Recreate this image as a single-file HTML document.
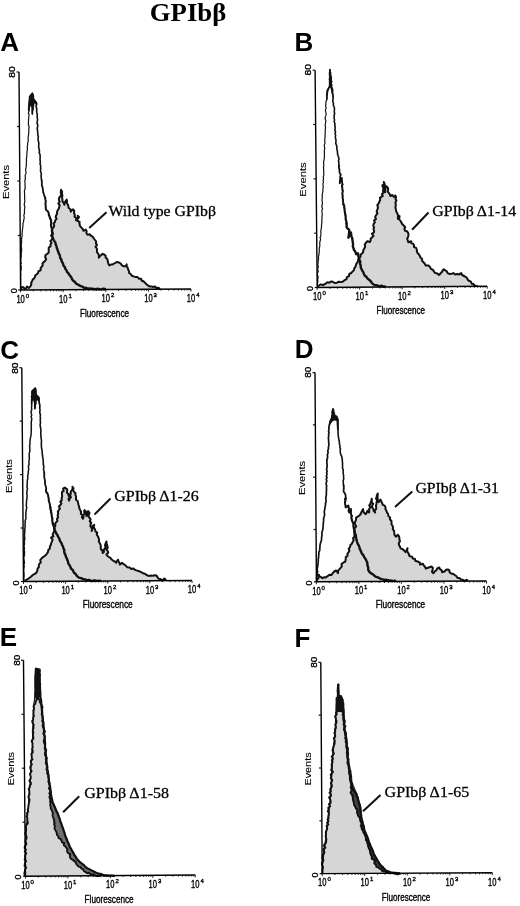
<!DOCTYPE html>
<html><head><meta charset="utf-8"><style>
html,body{margin:0;padding:0;background:#fff;width:520px;height:906px;overflow:hidden;}
svg{display:block;filter:blur(0.3px);}
</style></head><body>
<svg width="520" height="906" viewBox="0 0 520 906">
<rect width="520" height="906" fill="#fff"/>
<text x="149.8" y="20.8" font-family="&quot;Liberation Serif&quot;, serif" font-size="26" font-weight="bold" fill="#000" textLength="76.5" lengthAdjust="spacingAndGlyphs">GPIb&#946;</text>
<g><text x="0.2" y="51" font-family="&quot;Liberation Sans&quot;, sans-serif" font-size="26" font-weight="bold" fill="#000">A</text><polygon points="21,290 21,289.5 21.2,287.6 23,287 25,289 26.3,288 27,286.5 29,288 30.6,286 31.3,284.5 31.2,282.6 32.1,281.2 32.7,279.6 34,278.4 34.9,277 35.4,275.3 36.8,274.2 38,273 38.5,271.2 40.6,270.4 40.6,268.3 41.6,266.8 42.7,265.4 42.4,263.4 43.8,262.1 45.2,260.8 46.1,259.2 45.2,257 45.4,255.3 47,254 48.6,252.8 48.7,251.1 48.7,249.3 48.8,247.5 50.5,246.4 50.5,244.6 51.5,242.9 50.4,240.9 52.2,239.3 52.5,237.5 51,235.5 52.9,233.9 52.3,232 52.2,230.2 52.4,228.5 53.7,227.1 54.2,225.4 53.6,223.5 54.9,222.1 55.2,220.4 56.6,219 55.7,216.9 56.2,215.3 57.1,213.8 57,211.9 57.7,210.3 58.7,208.8 59.2,207.1 59.7,205.4 58.3,203.5 59.7,201.9 58.9,200.1 59,198.3 59.9,196.7 61.4,195.1 60.8,193.3 60.8,191.5 61,189.8 62.1,191.6 61.9,193.5 62.4,195.3 62.1,197.3 62.4,199.3 62.5,201.3 63.7,203 64.4,204.8 64.8,202.9 65.5,201.1 66.7,199.6 67,201.2 66.9,203 67.7,204.5 68.4,206 68.5,207.7 70.4,209.3 70.8,211.7 71.7,210.3 73.1,209.4 74.3,210.9 74,212.9 74.8,214.6 74.6,216.7 76.5,218.3 76,220.4 77.5,219.2 78.1,217.7 77.7,215.8 79.1,217.2 77.3,219.2 77.7,220.8 79.7,222.1 79.4,223.8 80.1,226.1 81.7,227.9 82.8,229.2 83.5,230.8 85.8,229.6 86.6,231.3 86.4,233.2 87.5,234.8 89.8,234.2 90.7,235.6 92.3,236.4 93.3,237.7 95,240 96.2,241.5 95.9,243.3 97,244.8 95.5,246.8 96.8,248.3 97,250 96.9,252 98.3,253.8 99,255.6 98.8,257.7 99.8,256.1 101.3,255 102.7,253.8 104.3,254.6 105.6,255.8 105.7,257.6 107.2,258.9 107.7,260.5 108,262.3 108.5,263.9 109.4,265.4 110.9,264.5 112.7,264.4 114.2,263.5 115.7,262.6 117.2,262 119,262.5 120.7,263.6 122,265.3 123.8,266.3 125.8,266.1 126.7,264.4 126.6,266.3 127.7,267.7 128.1,269.4 129,270.9 128.9,272.8 130.6,274 131.8,275.7 133.6,276.4 135.4,277 137.5,277.1 139.1,278.8 141.2,278.8 141.7,280.7 143.5,281.3 144.7,282.6 146,283.7 147.7,285.4 149.8,286.5 151.6,286.4 153.2,287 155,286.6 156.5,288 158.5,287.7 160,289 160,289" fill="#d6d6d6" stroke="none"/><polyline points="21,289.5 21.2,287.6 23,287 25,289 26.3,288 27,286.5 29,288 30.6,286 31.3,284.5 31.2,282.6 32.1,281.2 32.7,279.6 34,278.4 34.9,277 35.4,275.3 36.8,274.2 38,273 38.5,271.2 40.6,270.4 40.6,268.3 41.6,266.8 42.7,265.4 42.4,263.4 43.8,262.1 45.2,260.8 46.1,259.2 45.2,257 45.4,255.3 47,254 48.6,252.8 48.7,251.1 48.7,249.3 48.8,247.5 50.5,246.4 50.5,244.6 51.5,242.9 50.4,240.9 52.2,239.3 52.5,237.5 51,235.5 52.9,233.9 52.3,232 52.2,230.2 52.4,228.5 53.7,227.1 54.2,225.4 53.6,223.5 54.9,222.1 55.2,220.4 56.6,219 55.7,216.9 56.2,215.3 57.1,213.8 57,211.9 57.7,210.3 58.7,208.8 59.2,207.1 59.7,205.4 58.3,203.5 59.7,201.9 58.9,200.1 59,198.3 59.9,196.7 61.4,195.1 60.8,193.3 60.8,191.5 61,189.8 62.1,191.6 61.9,193.5 62.4,195.3 62.1,197.3 62.4,199.3 62.5,201.3 63.7,203 64.4,204.8 64.8,202.9 65.5,201.1 66.7,199.6 67,201.2 66.9,203 67.7,204.5 68.4,206 68.5,207.7 70.4,209.3 70.8,211.7 71.7,210.3 73.1,209.4 74.3,210.9 74,212.9 74.8,214.6 74.6,216.7 76.5,218.3 76,220.4 77.5,219.2 78.1,217.7 77.7,215.8 79.1,217.2 77.3,219.2 77.7,220.8 79.7,222.1 79.4,223.8 80.1,226.1 81.7,227.9 82.8,229.2 83.5,230.8 85.8,229.6 86.6,231.3 86.4,233.2 87.5,234.8 89.8,234.2 90.7,235.6 92.3,236.4 93.3,237.7 95,240 96.2,241.5 95.9,243.3 97,244.8 95.5,246.8 96.8,248.3 97,250 96.9,252 98.3,253.8 99,255.6 98.8,257.7 99.8,256.1 101.3,255 102.7,253.8 104.3,254.6 105.6,255.8 105.7,257.6 107.2,258.9 107.7,260.5 108,262.3 108.5,263.9 109.4,265.4 110.9,264.5 112.7,264.4 114.2,263.5 115.7,262.6 117.2,262 119,262.5 120.7,263.6 122,265.3 123.8,266.3 125.8,266.1 126.7,264.4 126.6,266.3 127.7,267.7 128.1,269.4 129,270.9 128.9,272.8 130.6,274 131.8,275.7 133.6,276.4 135.4,277 137.5,277.1 139.1,278.8 141.2,278.8 141.7,280.7 143.5,281.3 144.7,282.6 146,283.7 147.7,285.4 149.8,286.5 151.6,286.4 153.2,287 155,286.6 156.5,288 158.5,287.7 160,289" fill="none" stroke="#111" stroke-width="2.0" stroke-linejoin="round"/><polyline points="20.6,289 20.9,287.4 20.7,285.8 20.6,284.2 20.7,282.6 20.6,280.9 20.8,279.3 20.5,277.7 20.6,276.1 20.8,274.5 20.7,272.9 20.6,271.3 21.2,269.7 21.1,268.1 21.3,266.4 20.6,264.8 21.4,263.2 20.6,261.6 21,260 20.9,258.3 21.3,256.6 21.3,254.8 21.2,253.1 21.6,251.4 21.7,249.6 21.5,247.9 21.3,246.2 21.3,244.4 21.7,242.7 21.6,241 21.6,239.3 21.7,237.6 22.2,235.9 22,234.1 22.2,232.4 22.4,230.7 22.5,229 22.8,227.3 23,225.5 22.9,223.6 23.6,221.8 23.7,220 24.2,218.4 24.1,216.7 23.8,215 24.5,213.4 24.4,211.7 24.5,210 24.6,208.4 24.9,206.7 24.2,205.1 24.4,203.4 24.8,201.8 24.8,200.1 24.6,198.5 24.6,196.8 24.6,195.2 24.6,193.5 24.4,191.9 24.5,190.2 25.2,188.6 25.1,186.9 25,185.3 25,183.6 25,182 24.8,180.4 25.4,178.8 25.3,177.1 25.1,175.5 25.8,173.9 26.1,172.3 25.6,170.6 25.7,169 26.1,167.4 26.2,165.8 26.5,164.1 26.2,162.5 26.6,160.9 26.3,159.2 26.6,157.6 26.8,156 26.8,154.4 27,152.7 27,151.1 27.4,149.5 27.4,147.9 27.3,146.2 27.7,144.6 27.6,143 28.1,141.4 28.3,139.8 28,138.1 28.3,136.5 28.5,134.9 28.7,133.3 28.8,131.6 28.8,130 28.9,128.3 29.1,126.6 28.4,124.9 28.4,123.1 28.5,121.4 28.6,119.7 28.7,118 28.8,116.4 29.1,114.8 28.3,113.1 28.9,111.5 28.4,109.9 28.5,108.2 28.6,106.6 28.7,105 28.8,103.3 29,101.6 29.4,99.9 29.3,98.1 29.5,96.4 30.9,94.7 32.4,93.2" fill="none" stroke="#111" stroke-width="1.2" stroke-linejoin="round"/><polyline points="32.4,93.2 33.2,95 33.4,97 33.4,98.7 32.9,100.4 33.1,102.1 32.7,103.8 33.1,105.5 32.5,107.2 32.8,108.9 32.3,110.6 32.4,112.3 32.3,114 32.4,112.4 32.4,110.7 33.2,109.2 32.9,107.5 33.4,106 33.5,104.3 33.8,102.7 33.7,101.1 34.1,99.5 35.2,101 36.4,102.4 36.8,104.1 36.2,105.8 36.3,107.6 36.8,109.3 36.6,111 36.9,112.7 37.3,114.5 37.1,116.3 37.3,118 37.6,119.7 37.3,121.4 37,123.1 37.7,124.9 37.7,126.6 37.2,128.3 37.5,130 37.6,131.6 37.8,133.2 37.7,134.8 38.3,136.4 38.2,138 38,139.6 38.4,141.2 38.8,142.7 38.8,144.3 38.6,146 38.8,147.6 39.1,149.1 39.5,150.7 39.1,152.4 39.8,153.9 40.1,155.5 40.2,157.1 40,158.7 40.1,160.3 40.4,162 40,163.7 40.6,165.3 40.6,167 40.7,168.7 40.5,170.4 40.7,172 41.4,173.7 41.1,175.4 41.2,177 41.3,178.7 41.7,180.4" fill="none" stroke="#111" stroke-width="1.6" stroke-linejoin="round" stroke-linecap="round"/><polyline points="41.7,180.4 41.8,182 41.9,183.7 41.8,185.4 42.5,187.1 42.8,188.8 43,190.6 43.2,192.4 43.9,194 44.3,195.8 45.1,197.4" fill="none" stroke="#111" stroke-width="1.8" stroke-linejoin="round" stroke-linecap="round"/><polyline points="45.1,197.4 45.3,199.2 45.8,201 45.5,202.8 45.5,204.6 45.8,206.4 45.7,208.2 46.2,210 47.8,211.2 48.7,213 48.9,214.9" fill="none" stroke="#111" stroke-width="2.0" stroke-linejoin="round" stroke-linecap="round"/><polyline points="48.9,214.9 49.6,216.6 50.1,218.4 51,220 51.1,221.6 51.2,223.2 51,224.8 51.1,226.4 51.8,228 52,229.6 51.9,231.2 52.2,232.8" fill="none" stroke="#111" stroke-width="2.2" stroke-linejoin="round" stroke-linecap="round"/><polyline points="52.2,232.8 52.2,234.4 52.2,236 52.7,237.8 53.5,239.5 54.4,241.1 55.4,242.7 55.7,244.6 56.5,246 56.7,247.7 57.4,249.1 57.7,250.7 58.5,252.1 58.8,253.7 59.8,255.1 60,256.7 60.4,258.3 61.5,259.7 61.6,261.4 62.6,262.8 63.2,264.3 63.6,265.9 64.9,267.1 65.2,268.8 66.4,270.1 67,271.9 68.3,273.2 69.2,274.7 70.3,276.1 71.4,277.5 72.1,279.2 73.2,280.7 74.7,281.8 75.8,283.3 77.3,284.4 79.1,285.2 80.8,286.1 82.6,286.7 84.2,287.9 86,287.8 87.8,288.6 89.6,288.4 91.4,288.7 93.2,288.8 95,289.2 96.7,289 98.3,288.8 100,289.4 101.7,289.1 103.3,288.7 105,289" fill="none" stroke="#111" stroke-width="2.4" stroke-linejoin="round" stroke-linecap="round"/><polygon points="29.3,96.5 31.5,93.5 33,93 34,99 36.4,101.8 37.2,108 36.6,111 35.5,104 33.5,103 33,114.5 31.8,114.5 31.3,107 30.2,106 29.6,112 28.9,110 28.8,100" fill="#111" stroke="none"/><polyline points="19,72 20.6,290 191,289" fill="none" stroke="#000" stroke-width="1.4"/><line x1="18.1" y1="290" x2="20.6" y2="290" stroke="#111" stroke-width="1.2"/><line x1="17.7" y1="235.5" x2="20.2" y2="235.5" stroke="#111" stroke-width="1.2"/><line x1="17.3" y1="181" x2="19.8" y2="181" stroke="#111" stroke-width="1.2"/><line x1="16.9" y1="126.5" x2="19.4" y2="126.5" stroke="#111" stroke-width="1.2"/><line x1="16.5" y1="72" x2="19" y2="72" stroke="#111" stroke-width="1.2"/><line x1="20.6" y1="290" x2="20.6" y2="292.5" stroke="#111" stroke-width="0.9"/><line x1="33.4" y1="289.9" x2="33.4" y2="291.4" stroke="#111" stroke-width="0.9"/><line x1="40.9" y1="289.9" x2="40.9" y2="291.4" stroke="#111" stroke-width="0.9"/><line x1="46.2" y1="289.8" x2="46.2" y2="291.3" stroke="#111" stroke-width="0.9"/><line x1="50.4" y1="289.8" x2="50.4" y2="291.3" stroke="#111" stroke-width="0.9"/><line x1="53.7" y1="289.8" x2="53.7" y2="291.3" stroke="#111" stroke-width="0.9"/><line x1="56.6" y1="289.8" x2="56.6" y2="291.3" stroke="#111" stroke-width="0.9"/><line x1="59.1" y1="289.8" x2="59.1" y2="291.3" stroke="#111" stroke-width="0.9"/><line x1="61.3" y1="289.8" x2="61.3" y2="291.3" stroke="#111" stroke-width="0.9"/><line x1="63.2" y1="289.8" x2="63.2" y2="292.2" stroke="#111" stroke-width="0.9"/><line x1="76" y1="289.7" x2="76" y2="291.2" stroke="#111" stroke-width="0.9"/><line x1="83.5" y1="289.6" x2="83.5" y2="291.1" stroke="#111" stroke-width="0.9"/><line x1="88.8" y1="289.6" x2="88.8" y2="291.1" stroke="#111" stroke-width="0.9"/><line x1="93" y1="289.6" x2="93" y2="291.1" stroke="#111" stroke-width="0.9"/><line x1="96.3" y1="289.6" x2="96.3" y2="291.1" stroke="#111" stroke-width="0.9"/><line x1="99.2" y1="289.5" x2="99.2" y2="291" stroke="#111" stroke-width="0.9"/><line x1="101.7" y1="289.5" x2="101.7" y2="291" stroke="#111" stroke-width="0.9"/><line x1="103.9" y1="289.5" x2="103.9" y2="291" stroke="#111" stroke-width="0.9"/><line x1="105.8" y1="289.5" x2="105.8" y2="292" stroke="#111" stroke-width="0.9"/><line x1="118.6" y1="289.4" x2="118.6" y2="290.9" stroke="#111" stroke-width="0.9"/><line x1="126.1" y1="289.4" x2="126.1" y2="290.9" stroke="#111" stroke-width="0.9"/><line x1="131.4" y1="289.3" x2="131.4" y2="290.8" stroke="#111" stroke-width="0.9"/><line x1="135.6" y1="289.3" x2="135.6" y2="290.8" stroke="#111" stroke-width="0.9"/><line x1="138.9" y1="289.3" x2="138.9" y2="290.8" stroke="#111" stroke-width="0.9"/><line x1="141.8" y1="289.3" x2="141.8" y2="290.8" stroke="#111" stroke-width="0.9"/><line x1="144.3" y1="289.3" x2="144.3" y2="290.8" stroke="#111" stroke-width="0.9"/><line x1="146.5" y1="289.3" x2="146.5" y2="290.8" stroke="#111" stroke-width="0.9"/><line x1="148.4" y1="289.2" x2="148.4" y2="291.8" stroke="#111" stroke-width="0.9"/><line x1="161.2" y1="289.2" x2="161.2" y2="290.7" stroke="#111" stroke-width="0.9"/><line x1="168.7" y1="289.1" x2="168.7" y2="290.6" stroke="#111" stroke-width="0.9"/><line x1="174" y1="289.1" x2="174" y2="290.6" stroke="#111" stroke-width="0.9"/><line x1="178.2" y1="289.1" x2="178.2" y2="290.6" stroke="#111" stroke-width="0.9"/><line x1="181.5" y1="289.1" x2="181.5" y2="290.6" stroke="#111" stroke-width="0.9"/><line x1="184.4" y1="289" x2="184.4" y2="290.5" stroke="#111" stroke-width="0.9"/><line x1="186.9" y1="289" x2="186.9" y2="290.5" stroke="#111" stroke-width="0.9"/><line x1="189.1" y1="289" x2="189.1" y2="290.5" stroke="#111" stroke-width="0.9"/><line x1="191" y1="289" x2="191" y2="291.5" stroke="#111" stroke-width="0.9"/><text transform="translate(15.2,77.8) rotate(-90)" font-family="&quot;Liberation Sans&quot;, sans-serif" font-size="9.3" font-weight="normal" fill="#000" textLength="11.4" lengthAdjust="spacingAndGlyphs" stroke="#000" stroke-width="0.35">80</text><text transform="translate(17.2,293.2) rotate(-90)" font-family="&quot;Liberation Sans&quot;, sans-serif" font-size="9" font-weight="normal" fill="#000" stroke="#000" stroke-width="0.35">0</text><text transform="translate(8.9,199) rotate(-90)" font-family="&quot;Liberation Sans&quot;, sans-serif" font-size="8.8" font-weight="normal" fill="#000" textLength="34" lengthAdjust="spacingAndGlyphs" stroke="#000" stroke-width="0.1">Events</text><text x="16.4" y="302.8" font-family="&quot;Liberation Sans&quot;, sans-serif" font-size="10" font-weight="normal" fill="#000" textLength="8.4" lengthAdjust="spacingAndGlyphs" stroke="#000" stroke-width="0.35">10</text><text x="25.8" y="297.8" font-family="&quot;Liberation Sans&quot;, sans-serif" font-size="6" font-weight="normal" fill="#000" stroke="#000" stroke-width="0.35">0</text><text x="59" y="302.6" font-family="&quot;Liberation Sans&quot;, sans-serif" font-size="10" font-weight="normal" fill="#000" textLength="8.4" lengthAdjust="spacingAndGlyphs" stroke="#000" stroke-width="0.35">10</text><text x="68.4" y="297.6" font-family="&quot;Liberation Sans&quot;, sans-serif" font-size="6" font-weight="normal" fill="#000" stroke="#000" stroke-width="0.35">1</text><text x="101.6" y="302.3" font-family="&quot;Liberation Sans&quot;, sans-serif" font-size="10" font-weight="normal" fill="#000" textLength="8.4" lengthAdjust="spacingAndGlyphs" stroke="#000" stroke-width="0.35">10</text><text x="111" y="297.3" font-family="&quot;Liberation Sans&quot;, sans-serif" font-size="6" font-weight="normal" fill="#000" stroke="#000" stroke-width="0.35">2</text><text x="144.2" y="302.1" font-family="&quot;Liberation Sans&quot;, sans-serif" font-size="10" font-weight="normal" fill="#000" textLength="8.4" lengthAdjust="spacingAndGlyphs" stroke="#000" stroke-width="0.35">10</text><text x="153.6" y="297.1" font-family="&quot;Liberation Sans&quot;, sans-serif" font-size="6" font-weight="normal" fill="#000" stroke="#000" stroke-width="0.35">3</text><text x="186.8" y="301.8" font-family="&quot;Liberation Sans&quot;, sans-serif" font-size="10" font-weight="normal" fill="#000" textLength="8.4" lengthAdjust="spacingAndGlyphs" stroke="#000" stroke-width="0.35">10</text><text x="196.2" y="296.8" font-family="&quot;Liberation Sans&quot;, sans-serif" font-size="6" font-weight="normal" fill="#000" stroke="#000" stroke-width="0.35">4</text><text x="80" y="316.6" font-family="&quot;Liberation Sans&quot;, sans-serif" font-size="10" font-weight="normal" fill="#000" textLength="49" lengthAdjust="spacingAndGlyphs" stroke="#000" stroke-width="0.35">Fluorescence</text><text x="108.5" y="215.5" font-family="&quot;Liberation Serif&quot;, serif" font-size="15" font-weight="normal" fill="#000" textLength="107.5" lengthAdjust="spacingAndGlyphs" stroke="#000" stroke-width="0.3">Wild type GPIb&#946;</text><line x1="89.2" y1="228" x2="106.5" y2="212.3" stroke="#111" stroke-width="2"/></g>
<g><text x="294.6" y="50.6" font-family="&quot;Liberation Sans&quot;, sans-serif" font-size="26" font-weight="bold" fill="#000">B</text><polygon points="317.5,287.5 317.5,286.5 319.1,285.5 320.7,284.4 323,285 325.8,283.6 327.3,282.3 329.3,282.7 330.9,281.5 332.8,281.8 334.8,283 337.1,282.7 338.7,281.7 340.6,282.1 342.3,281.8 343.7,280.9 345.1,279.9 346.6,279.2 346.8,277.1 349,276.1 349.2,274 351.2,273 352.7,271.4 353.9,270.2 354.2,268.4 355.3,267.1 355.9,265.2 356.5,263.4 357.9,261.9 358.1,259.8 358.8,258 360.5,256.7 360.5,254.8 361.9,253.6 363.1,252.4 363.2,250.4 364.3,248.6 365.1,246.7 364.8,244.6 365.9,242.8 367.4,241.2 370,242 370.6,240.4 370.8,238.5 372.2,237.3 373.5,235.9 371.9,233.9 373.8,232.6 374.2,231.1 373.5,229.2 374.1,227.7 373.3,225.8 373.5,224.1 374.9,222.4 374,220.6 376,219 375.1,217.1 376.1,215.1 377.5,213.3 376.6,211.6 377.2,210 377.8,208.5 377.9,206.9 377.3,205.2 378.5,203.7 379.3,201.8 380.2,200 379.9,197.9 381.3,196.9 382.8,196 381.9,194.2 383.5,192.5 382.9,190.7 383.6,189 382.9,187.2 382.4,185.4 384.4,183.8 383.8,182 384.5,183.6 384.9,185.3 384.4,187.1 384.3,188.8 384.2,190.5 385.2,192.1 385.3,190.1 385.2,188 386.6,186.3 388.1,188.3 388.1,190 387.8,191.7 389,193.1 389.8,194.5 390.5,196 392.4,195 393.8,196.9 395.3,195.5 396.1,197.1 395.5,198.9 396.4,200.5 395.5,202.2 395.7,203.9 395.8,205.6 395.4,207.3 395.7,208.8 396,210.4 396.5,212 397.4,213.6 398,215.3 397.9,217.2 398,219 399.4,217.8 399.5,216 399.1,217.8 399.4,219.5 400.6,221 402,223.8 403.9,225.8 405.2,227.2 404.4,229 404.9,230.6 407.3,231.5 408.3,233.2 408.5,235 408.1,236.9 407.2,238.8 407.8,240.5 408.3,242.3 411.2,241.3 411.2,243.1 413.3,243.9 414,245.3 414,247.1 416.1,247.9 416.9,250 416.9,251.8 417.7,253.2 418.9,254.4 419.8,255.8 420.5,257.6 422.1,259 422.2,261.1 423.7,262.5 424.9,263.8 425.6,265.4 428.5,265.4 430,267.2 431.3,269.2 433.1,270 434,271.7 435.2,273.1 437.4,273.5 439,275 440.4,273.5 441.9,272.1 442.7,270.5 443.8,269.2 445.1,270.4 446.7,271.2 447.6,273.1 449.6,274 451.6,273.8 453.5,273.1 455.2,274.5 457.3,274 459.4,274.4 461.2,273.1 462.1,275 464,276 465.6,276.8 466.9,277.9 467.7,279.5 468.8,280.8 470.9,281.6 471.7,283.7 473.5,284.1 474.6,285.6 477.5,286.2 477.5,286.2" fill="#d6d6d6" stroke="none"/><polyline points="317.5,286.5 319.1,285.5 320.7,284.4 323,285 325.8,283.6 327.3,282.3 329.3,282.7 330.9,281.5 332.8,281.8 334.8,283 337.1,282.7 338.7,281.7 340.6,282.1 342.3,281.8 343.7,280.9 345.1,279.9 346.6,279.2 346.8,277.1 349,276.1 349.2,274 351.2,273 352.7,271.4 353.9,270.2 354.2,268.4 355.3,267.1 355.9,265.2 356.5,263.4 357.9,261.9 358.1,259.8 358.8,258 360.5,256.7 360.5,254.8 361.9,253.6 363.1,252.4 363.2,250.4 364.3,248.6 365.1,246.7 364.8,244.6 365.9,242.8 367.4,241.2 370,242 370.6,240.4 370.8,238.5 372.2,237.3 373.5,235.9 371.9,233.9 373.8,232.6 374.2,231.1 373.5,229.2 374.1,227.7 373.3,225.8 373.5,224.1 374.9,222.4 374,220.6 376,219 375.1,217.1 376.1,215.1 377.5,213.3 376.6,211.6 377.2,210 377.8,208.5 377.9,206.9 377.3,205.2 378.5,203.7 379.3,201.8 380.2,200 379.9,197.9 381.3,196.9 382.8,196 381.9,194.2 383.5,192.5 382.9,190.7 383.6,189 382.9,187.2 382.4,185.4 384.4,183.8 383.8,182 384.5,183.6 384.9,185.3 384.4,187.1 384.3,188.8 384.2,190.5 385.2,192.1 385.3,190.1 385.2,188 386.6,186.3 388.1,188.3 388.1,190 387.8,191.7 389,193.1 389.8,194.5 390.5,196 392.4,195 393.8,196.9 395.3,195.5 396.1,197.1 395.5,198.9 396.4,200.5 395.5,202.2 395.7,203.9 395.8,205.6 395.4,207.3 395.7,208.8 396,210.4 396.5,212 397.4,213.6 398,215.3 397.9,217.2 398,219 399.4,217.8 399.5,216 399.1,217.8 399.4,219.5 400.6,221 402,223.8 403.9,225.8 405.2,227.2 404.4,229 404.9,230.6 407.3,231.5 408.3,233.2 408.5,235 408.1,236.9 407.2,238.8 407.8,240.5 408.3,242.3 411.2,241.3 411.2,243.1 413.3,243.9 414,245.3 414,247.1 416.1,247.9 416.9,250 416.9,251.8 417.7,253.2 418.9,254.4 419.8,255.8 420.5,257.6 422.1,259 422.2,261.1 423.7,262.5 424.9,263.8 425.6,265.4 428.5,265.4 430,267.2 431.3,269.2 433.1,270 434,271.7 435.2,273.1 437.4,273.5 439,275 440.4,273.5 441.9,272.1 442.7,270.5 443.8,269.2 445.1,270.4 446.7,271.2 447.6,273.1 449.6,274 451.6,273.8 453.5,273.1 455.2,274.5 457.3,274 459.4,274.4 461.2,273.1 462.1,275 464,276 465.6,276.8 466.9,277.9 467.7,279.5 468.8,280.8 470.9,281.6 471.7,283.7 473.5,284.1 474.6,285.6 477.5,286.2" fill="none" stroke="#111" stroke-width="2.0" stroke-linejoin="round"/><polyline points="317.5,286 317.5,284.4 317.6,282.8 317.9,281.2 317.6,279.6 318.1,278 318.1,276.4 317.4,274.7 317.4,273.1 318.3,271.5 317.9,269.9 317.7,268.3 318.4,266.7 317.8,265.1 318,263.5 318.1,261.9 318.3,260.2 318.6,258.5 318.4,256.7 318.9,255 319.1,253.3 319.3,251.5 319.2,249.8 319.3,248 319.8,246.3 319.8,244.6 319.7,242.8 320.1,241.1 320.6,239.4 320.1,237.6 320.8,236 320.9,234.2 320.9,232.5 320.8,230.7 321.2,229 321.5,227.3 321.5,225.5 321.7,223.8 322,222 321.7,220.3 322.1,218.5 321.9,216.7 322.3,215 322.1,213.4 321.9,211.8 322,210.1 322.6,208.5 321.8,206.9 322,205.3 322.5,203.7 322.3,202 322.1,200.4 322.1,198.8 322.3,197.1 322.2,195.3 322.3,193.6 322.9,191.9 322.8,190.2 323,188.5 323.2,186.9 323.1,185.3 322.9,183.7 323.5,182.1 323.1,180.5 323.6,178.9 323.2,177.2 323.7,175.7 323.8,174 323.8,172.4 323.6,170.8 323.7,169.2 323.4,167.6 323.8,166 323.7,164.4 323.6,162.7 323.7,161.1 324.2,159.5 324.3,157.9 324.5,156.3 324.3,154.6 324.5,153 324.3,151.4 324.5,149.8 324.8,148.1 324.3,146.5 324.3,144.9 324.9,143.3 324.9,141.6 324.7,140 324.9,138.2 325.1,136.4 325,134.6 325.3,132.8 325.2,131 325.3,129.2 325.6,127.5 325.1,125.8 325.4,124 325.6,122.3 325.9,120.6 325.2,118.9 325.3,117.1 325.9,115.4 326.1,113.7 325.8,112 325.4,110.1 326.1,108.2 325.6,106.2 325.9,104.3 325.8,102.4 326.7,99.5 326.8,97.8 326.6,96.1 326.6,94.3 327.1,92.6 327,90.9 327.6,89.2 328.9,87.9 329.6,86.2 329.8,84.5 329.7,82.9 329.9,81.2 329.3,79.5 329.6,77.8 330,76.2 329.4,74.5 329.4,72.8 329.9,71.2 329.8,69.5" fill="none" stroke="#111" stroke-width="1.2" stroke-linejoin="round"/><polyline points="329.8,69.5 329.8,71.3 330.6,72.9 330.4,74.8 330.9,76.5 331.3,78.2 331,79.9 331.7,81.6 331.1,83.4 331.8,85.1 331.5,86.8 332.7,89.7 332.4,91.4 332.6,93.2 332.9,94.9 333.1,96.6 333.1,98.4 332.8,100.1 332.9,101.8 333.5,103.6 333.3,105.3 334.2,107 334.5,108.6 334.4,110.2 334.2,111.9 334.7,113.5 334.2,115.1 334.1,116.8 334.2,118.4 334.5,120 334.2,121.7 334.9,123.4 334.8,125 335.1,126.7 335.2,128.4 334.8,130.1 335.6,131.8 335.1,133.5 335.6,135.1 335.3,136.8 335.6,138.5 336,140.2 335.9,141.9 335.8,143.6 336.5,145.3 336.9,147 336.8,148.7 337.2,150.4 337.5,152.1 337.5,153.9 338,155.6 338.6,157.3 339,159 338.5,160.8 338.8,162.5 338.8,164.3 339.2,166" fill="none" stroke="#111" stroke-width="1.6" stroke-linejoin="round" stroke-linecap="round"/><polyline points="339.2,166 338.8,167.7 339.5,169.4 339.4,171.2 339.7,173 340.8,174.6 340.2,176.3 340.2,178.1 340,179.8 339.9,181.5 339.8,183.3 340.4,181.5 341.1,179.7 342,178 341.9,179.6 342,181.2 342.2,182.8 342.5,184.4" fill="none" stroke="#111" stroke-width="1.8" stroke-linejoin="round" stroke-linecap="round"/><polyline points="342.5,184.4 341.9,186.1 342.3,187.7 342.3,189.3 342.9,190.9 342.5,192.5 342.3,194.2 342.8,195.8 342.4,197.4 343,199 342.9,200.6 343.2,202.3 343.3,204.1" fill="none" stroke="#111" stroke-width="2.0" stroke-linejoin="round" stroke-linecap="round"/><polyline points="343.3,204.1 344.2,205.7 344.2,207.5 344.6,209.2 344.7,210.9 345,212.7 345.2,214.4 345.7,216.1 345.6,217.9 345.8,219.6 346.3,221.5 346.5,223.4" fill="none" stroke="#111" stroke-width="2.2" stroke-linejoin="round" stroke-linecap="round"/><polyline points="346.5,223.4 346.7,225.3 346.6,227.3 347.8,228.7 349.2,229.9 349.3,231.9 348.9,233.8 348.9,235.8 348.3,237.7 349.2,236 349.9,234.2 350.9,232.5 351.2,234.2 351.2,236 352.1,237.7 352.4,239.4 352.6,241.1 352.9,242.9 353.1,244.6 352.8,246.4 353.5,248.1 353.9,249.7 354.9,251.1 355.7,252.5 356.1,254.1 357.9,253.3 358.2,255.1 358.5,256.8 359.2,258.5 359.6,260.2 360.3,261.8 360,263.7 360.7,265.3 360.7,267.1 361.3,268.8 362.2,270.5 363.3,272.1 363.9,274 364.8,275.7 366.4,276.8 367.4,278.4 369,279.7 370.5,281 371.7,282.7 373.2,284.3 375.2,285.3 376.9,285.3 378.4,286 380.1,286.2 381.8,285.7 383.3,286.6 385,286.5" fill="none" stroke="#111" stroke-width="2.4" stroke-linejoin="round" stroke-linecap="round"/><polygon points="329,69.5 330.6,69.5 331.6,78 331.8,87 333,89.5 333.6,100 332,95 330.5,88 329.8,87.5 328.2,92 327.5,100 326.2,101 326.3,92 328.8,86" fill="#111" stroke="none"/><polyline points="315.1,70.2 317.2,287.5 487.2,286.2" fill="none" stroke="#000" stroke-width="1.4"/><line x1="314.7" y1="287.5" x2="317.2" y2="287.5" stroke="#111" stroke-width="1.2"/><line x1="314.2" y1="233.2" x2="316.7" y2="233.2" stroke="#111" stroke-width="1.2"/><line x1="313.6" y1="178.8" x2="316.1" y2="178.8" stroke="#111" stroke-width="1.2"/><line x1="313.1" y1="124.5" x2="315.6" y2="124.5" stroke="#111" stroke-width="1.2"/><line x1="312.6" y1="70.2" x2="315.1" y2="70.2" stroke="#111" stroke-width="1.2"/><line x1="317.2" y1="287.5" x2="317.2" y2="290" stroke="#111" stroke-width="0.9"/><line x1="330" y1="287.4" x2="330" y2="288.9" stroke="#111" stroke-width="0.9"/><line x1="337.5" y1="287.3" x2="337.5" y2="288.8" stroke="#111" stroke-width="0.9"/><line x1="342.8" y1="287.3" x2="342.8" y2="288.8" stroke="#111" stroke-width="0.9"/><line x1="346.9" y1="287.3" x2="346.9" y2="288.8" stroke="#111" stroke-width="0.9"/><line x1="350.3" y1="287.2" x2="350.3" y2="288.7" stroke="#111" stroke-width="0.9"/><line x1="353.1" y1="287.2" x2="353.1" y2="288.7" stroke="#111" stroke-width="0.9"/><line x1="355.6" y1="287.2" x2="355.6" y2="288.7" stroke="#111" stroke-width="0.9"/><line x1="357.8" y1="287.2" x2="357.8" y2="288.7" stroke="#111" stroke-width="0.9"/><line x1="359.7" y1="287.2" x2="359.7" y2="289.7" stroke="#111" stroke-width="0.9"/><line x1="372.5" y1="287.1" x2="372.5" y2="288.6" stroke="#111" stroke-width="0.9"/><line x1="380" y1="287" x2="380" y2="288.5" stroke="#111" stroke-width="0.9"/><line x1="385.3" y1="287" x2="385.3" y2="288.5" stroke="#111" stroke-width="0.9"/><line x1="389.4" y1="286.9" x2="389.4" y2="288.4" stroke="#111" stroke-width="0.9"/><line x1="392.8" y1="286.9" x2="392.8" y2="288.4" stroke="#111" stroke-width="0.9"/><line x1="395.6" y1="286.9" x2="395.6" y2="288.4" stroke="#111" stroke-width="0.9"/><line x1="398.1" y1="286.9" x2="398.1" y2="288.4" stroke="#111" stroke-width="0.9"/><line x1="400.3" y1="286.9" x2="400.3" y2="288.4" stroke="#111" stroke-width="0.9"/><line x1="402.2" y1="286.9" x2="402.2" y2="289.4" stroke="#111" stroke-width="0.9"/><line x1="415" y1="286.8" x2="415" y2="288.3" stroke="#111" stroke-width="0.9"/><line x1="422.5" y1="286.7" x2="422.5" y2="288.2" stroke="#111" stroke-width="0.9"/><line x1="427.8" y1="286.7" x2="427.8" y2="288.2" stroke="#111" stroke-width="0.9"/><line x1="431.9" y1="286.6" x2="431.9" y2="288.1" stroke="#111" stroke-width="0.9"/><line x1="435.3" y1="286.6" x2="435.3" y2="288.1" stroke="#111" stroke-width="0.9"/><line x1="438.1" y1="286.6" x2="438.1" y2="288.1" stroke="#111" stroke-width="0.9"/><line x1="440.6" y1="286.6" x2="440.6" y2="288.1" stroke="#111" stroke-width="0.9"/><line x1="442.8" y1="286.5" x2="442.8" y2="288" stroke="#111" stroke-width="0.9"/><line x1="444.7" y1="286.5" x2="444.7" y2="289" stroke="#111" stroke-width="0.9"/><line x1="457.5" y1="286.4" x2="457.5" y2="287.9" stroke="#111" stroke-width="0.9"/><line x1="465" y1="286.4" x2="465" y2="287.9" stroke="#111" stroke-width="0.9"/><line x1="470.3" y1="286.3" x2="470.3" y2="287.8" stroke="#111" stroke-width="0.9"/><line x1="474.4" y1="286.3" x2="474.4" y2="287.8" stroke="#111" stroke-width="0.9"/><line x1="477.8" y1="286.3" x2="477.8" y2="287.8" stroke="#111" stroke-width="0.9"/><line x1="480.6" y1="286.3" x2="480.6" y2="287.8" stroke="#111" stroke-width="0.9"/><line x1="483.1" y1="286.2" x2="483.1" y2="287.7" stroke="#111" stroke-width="0.9"/><line x1="485.3" y1="286.2" x2="485.3" y2="287.7" stroke="#111" stroke-width="0.9"/><line x1="487.2" y1="286.2" x2="487.2" y2="288.7" stroke="#111" stroke-width="0.9"/><text transform="translate(310.7,75.5) rotate(-90)" font-family="&quot;Liberation Sans&quot;, sans-serif" font-size="9.3" font-weight="normal" fill="#000" textLength="11.4" lengthAdjust="spacingAndGlyphs" stroke="#000" stroke-width="0.35">80</text><text transform="translate(313.2,291) rotate(-90)" font-family="&quot;Liberation Sans&quot;, sans-serif" font-size="9" font-weight="normal" fill="#000" stroke="#000" stroke-width="0.35">0</text><text transform="translate(305.6,196.7) rotate(-90)" font-family="&quot;Liberation Sans&quot;, sans-serif" font-size="8.8" font-weight="normal" fill="#000" textLength="34.4" lengthAdjust="spacingAndGlyphs" stroke="#000" stroke-width="0.1">Events</text><text x="313" y="300.3" font-family="&quot;Liberation Sans&quot;, sans-serif" font-size="10" font-weight="normal" fill="#000" textLength="8.4" lengthAdjust="spacingAndGlyphs" stroke="#000" stroke-width="0.35">10</text><text x="322.4" y="295.3" font-family="&quot;Liberation Sans&quot;, sans-serif" font-size="6" font-weight="normal" fill="#000" stroke="#000" stroke-width="0.35">0</text><text x="355.5" y="300" font-family="&quot;Liberation Sans&quot;, sans-serif" font-size="10" font-weight="normal" fill="#000" textLength="8.4" lengthAdjust="spacingAndGlyphs" stroke="#000" stroke-width="0.35">10</text><text x="364.9" y="295" font-family="&quot;Liberation Sans&quot;, sans-serif" font-size="6" font-weight="normal" fill="#000" stroke="#000" stroke-width="0.35">1</text><text x="398" y="299.7" font-family="&quot;Liberation Sans&quot;, sans-serif" font-size="10" font-weight="normal" fill="#000" textLength="8.4" lengthAdjust="spacingAndGlyphs" stroke="#000" stroke-width="0.35">10</text><text x="407.4" y="294.7" font-family="&quot;Liberation Sans&quot;, sans-serif" font-size="6" font-weight="normal" fill="#000" stroke="#000" stroke-width="0.35">2</text><text x="440.5" y="299.3" font-family="&quot;Liberation Sans&quot;, sans-serif" font-size="10" font-weight="normal" fill="#000" textLength="8.4" lengthAdjust="spacingAndGlyphs" stroke="#000" stroke-width="0.35">10</text><text x="449.9" y="294.3" font-family="&quot;Liberation Sans&quot;, sans-serif" font-size="6" font-weight="normal" fill="#000" stroke="#000" stroke-width="0.35">3</text><text x="483" y="299" font-family="&quot;Liberation Sans&quot;, sans-serif" font-size="10" font-weight="normal" fill="#000" textLength="8.4" lengthAdjust="spacingAndGlyphs" stroke="#000" stroke-width="0.35">10</text><text x="492.4" y="294" font-family="&quot;Liberation Sans&quot;, sans-serif" font-size="6" font-weight="normal" fill="#000" stroke="#000" stroke-width="0.35">4</text><text x="376.5" y="314" font-family="&quot;Liberation Sans&quot;, sans-serif" font-size="10" font-weight="normal" fill="#000" textLength="48.5" lengthAdjust="spacingAndGlyphs" stroke="#000" stroke-width="0.35">Fluorescence</text><text x="432.2" y="215.7" font-family="&quot;Liberation Serif&quot;, serif" font-size="15.5" font-weight="normal" fill="#000" textLength="84" lengthAdjust="spacingAndGlyphs" stroke="#000" stroke-width="0.3">GPIb&#946; &#916;1-14</text><line x1="412.1" y1="229.8" x2="428.5" y2="212.5" stroke="#111" stroke-width="2"/></g>
<g><text x="0.2" y="358.5" font-family="&quot;Liberation Sans&quot;, sans-serif" font-size="26" font-weight="bold" fill="#000">C</text><polygon points="24.5,581.5 24.5,581 26,580 28.4,578.6 31,576.8 32.5,575.2 34.4,574.2 35.9,573.2 36.8,571.9 37.4,570.3 37.6,568.5 38.8,567.3 38.8,565.4 39.4,563.7 40.9,562.3 40.2,560.2 41.4,558.7 42.6,557.3 44.2,556.3 45.7,555.2 46.9,553.6 48,552 48.3,550 49.9,548.6 49.9,546.5 50.9,544.8 51.2,543.1 52,541.4 52.6,539.7 51,537.7 53.4,536.3 52.6,534.4 53.5,532.8 54.2,531.1 54.3,529.2 53.9,527.3 55.4,525.8 55.1,523.9 56.1,522.3 57.4,520.8 56.9,518.8 58.1,517.3 57.6,515.4 58.3,513.7 57.8,511.8 58.7,510.2 59.9,508.7 58.9,506.4 60.4,505 61.4,503.5 60.3,501.7 61.8,500.2 61.5,498.5 62.1,496.9 62.1,495.2 61.9,493.5 62.1,491.9 63.7,490.9 63.1,488.6 64.7,487.6 67.3,489.3 67.1,491 66.9,492.7 68.5,494.1 68.5,495.7 69.7,497.2 69.6,498.9 69.1,500.6 68.5,498.6 70.9,497.4 70.1,495.4 70.8,493.7 70.6,491.8 71.7,490.2 72.7,488.6 72.5,486.7 73.5,488.3 73,490.4 74.2,491.9 75.6,493.2 75.3,494.9 76.1,496.4 76,498.1 76,499.7 77.7,501 78.1,502.9 78.5,504.7 79.1,506.6 79.4,508.5 80.3,510.2 81.1,511.8 80.8,513.8 82.8,515.1 81.9,517.2 82.9,518.8 83.6,517.1 83,515.2 84.8,513.7 84.1,511.8 84.6,510.1 85.9,511.8 86,514 86.4,516 87.4,514.5 87.2,512.6 88.1,511.1 89.5,512.6 88.8,514.6 88.4,516.5 89.8,518 90.6,519.5 89.7,521.3 91.3,522.8 90.5,524.5 90.4,526.2 91.4,527.7 91.9,529.3 91.6,531 92.3,529.5 92.4,527.7 92.6,526 94.2,524.9 93.7,526.7 94.3,528.3 95.2,529.7 95.4,531.3 97.3,532.5 96.7,534.4 97.7,536 98.5,537.7 99.1,539.5 98.8,541.5 99.8,543.3 100.7,545.1 100.8,547.1 100.8,549.2 102.5,550.8 102.7,553.1 104,551.7 103.6,549.9 104.8,548.5 105.6,547 105,545.1 105.6,543.5 106.5,541.5 106.4,543.1 107.1,544.7 107.3,546.3 107.8,547.9 106.3,549.6 107.8,551.1 108.2,552.7 106.4,554.5 107.5,556 108.9,557 110.4,557.9 111.7,559.5 113.3,560.8 114.9,561.5 116.2,562.7 116.9,561.1 118.1,559.8 118.5,561.5 119.4,563 120,564.6 121.9,562.7 123.1,563.9 124.5,564.7 125.8,565.6 127.3,567.3 129.6,567.5 131.3,569 133.5,568.5 134.7,569.7 136.3,570.4 139.2,571.3 141.2,572.1 143.1,573.3 145.2,573.9 146.9,575.2 148.8,575.9 150.8,575.6 152.7,575.7 154.6,575.2 156.5,575.5 157.5,577.1 158.5,578.7 160.4,579 162.2,580.4 164.4,578.6 166.2,580 166.2,580.5" fill="#d6d6d6" stroke="none"/><polyline points="24.5,581 26,580 28.4,578.6 31,576.8 32.5,575.2 34.4,574.2 35.9,573.2 36.8,571.9 37.4,570.3 37.6,568.5 38.8,567.3 38.8,565.4 39.4,563.7 40.9,562.3 40.2,560.2 41.4,558.7 42.6,557.3 44.2,556.3 45.7,555.2 46.9,553.6 48,552 48.3,550 49.9,548.6 49.9,546.5 50.9,544.8 51.2,543.1 52,541.4 52.6,539.7 51,537.7 53.4,536.3 52.6,534.4 53.5,532.8 54.2,531.1 54.3,529.2 53.9,527.3 55.4,525.8 55.1,523.9 56.1,522.3 57.4,520.8 56.9,518.8 58.1,517.3 57.6,515.4 58.3,513.7 57.8,511.8 58.7,510.2 59.9,508.7 58.9,506.4 60.4,505 61.4,503.5 60.3,501.7 61.8,500.2 61.5,498.5 62.1,496.9 62.1,495.2 61.9,493.5 62.1,491.9 63.7,490.9 63.1,488.6 64.7,487.6 67.3,489.3 67.1,491 66.9,492.7 68.5,494.1 68.5,495.7 69.7,497.2 69.6,498.9 69.1,500.6 68.5,498.6 70.9,497.4 70.1,495.4 70.8,493.7 70.6,491.8 71.7,490.2 72.7,488.6 72.5,486.7 73.5,488.3 73,490.4 74.2,491.9 75.6,493.2 75.3,494.9 76.1,496.4 76,498.1 76,499.7 77.7,501 78.1,502.9 78.5,504.7 79.1,506.6 79.4,508.5 80.3,510.2 81.1,511.8 80.8,513.8 82.8,515.1 81.9,517.2 82.9,518.8 83.6,517.1 83,515.2 84.8,513.7 84.1,511.8 84.6,510.1 85.9,511.8 86,514 86.4,516 87.4,514.5 87.2,512.6 88.1,511.1 89.5,512.6 88.8,514.6 88.4,516.5 89.8,518 90.6,519.5 89.7,521.3 91.3,522.8 90.5,524.5 90.4,526.2 91.4,527.7 91.9,529.3 91.6,531 92.3,529.5 92.4,527.7 92.6,526 94.2,524.9 93.7,526.7 94.3,528.3 95.2,529.7 95.4,531.3 97.3,532.5 96.7,534.4 97.7,536 98.5,537.7 99.1,539.5 98.8,541.5 99.8,543.3 100.7,545.1 100.8,547.1 100.8,549.2 102.5,550.8 102.7,553.1 104,551.7 103.6,549.9 104.8,548.5 105.6,547 105,545.1 105.6,543.5 106.5,541.5 106.4,543.1 107.1,544.7 107.3,546.3 107.8,547.9 106.3,549.6 107.8,551.1 108.2,552.7 106.4,554.5 107.5,556 108.9,557 110.4,557.9 111.7,559.5 113.3,560.8 114.9,561.5 116.2,562.7 116.9,561.1 118.1,559.8 118.5,561.5 119.4,563 120,564.6 121.9,562.7 123.1,563.9 124.5,564.7 125.8,565.6 127.3,567.3 129.6,567.5 131.3,569 133.5,568.5 134.7,569.7 136.3,570.4 139.2,571.3 141.2,572.1 143.1,573.3 145.2,573.9 146.9,575.2 148.8,575.9 150.8,575.6 152.7,575.7 154.6,575.2 156.5,575.5 157.5,577.1 158.5,578.7 160.4,579 162.2,580.4 164.4,578.6 166.2,580" fill="none" stroke="#111" stroke-width="2.0" stroke-linejoin="round"/><polyline points="23.5,581 23.8,579.4 23.6,577.8 24,576.2 23.9,574.5 23.9,572.9 23.6,571.3 23.7,569.7 23.8,568.1 24.2,566.5 23.7,564.8 24.3,563.2 24.3,561.6 24,560 23.7,558.4 23.9,556.8 24.4,555.2 24.4,553.6 24.6,552 24.1,550.4 24.4,548.8 24.1,547.2 24,545.6 24.4,544 24.4,542.4 24.3,540.8 24.8,539.2 24.7,537.6 24.4,536 24.6,534.4 24.7,532.7 24.7,530.9 24.9,529.2 25,527.5 25.2,525.8 24.9,524 25.3,522.3 25.1,520.6 25.8,519 26,517.4 25.7,515.7 26,514.1 25.8,512.5 26.2,510.8 26.3,509.2 26.8,507.5 26.2,505.7 26.5,504 26.4,502.3 26.6,500.5 26.9,498.8 27,497.1 27.2,495.4 26.7,493.6 27,491.9 27,490.2 27.5,488.5 26.9,486.7 27.2,485 27.2,483.2 27.3,481.5 27.4,479.8 27.9,478.1 27.6,476.3 28,474.6 28.3,472.9 28.3,471.1 28.7,469.4 28.6,467.7 28.4,465.9 29.1,464.2 28.9,462.5 29,460.8 29.4,459.1 29.2,457.3 29.3,455.6 29.1,453.8 29.7,452.1 29.9,450.4 29.8,448.7 29.7,446.9 29.6,445.2 30.1,443.5 29.9,441.7 30.1,440 30.5,437.5 30.9,435.9 31.1,434.3 31.2,432.7 31.2,431.1 31.3,429.5 31.3,427.9 31.2,426.3 31.4,424.7 31.2,423.1 31.3,421.5 31.7,419.9 31.7,418.3 31.1,416.7 31.7,415 31.3,413.4 31,411.8 31.6,410.2 31.7,408.6 31.5,407 31.8,405.4 31.5,403.8 31.6,402 31.5,400.2 31.8,398.4 31.4,396.6 32.1,394.9 31.8,393.1 31.9,391.3 33.6,389.6 35.3,388" fill="none" stroke="#111" stroke-width="1.5" stroke-linejoin="round"/><polyline points="35.3,388 35.9,389.6 35.9,391.3 36,393 35.6,394.7 35.5,396.5 35.4,398.2 35.2,400 35.1,401.7 35.5,403.5 35.2,405.2 35.3,407 34.8,408.7 34.9,407 35,405.3 35.9,403.7 35.8,401.9 36.1,400.3 36.4,398.6 36.8,396.9 36.8,395.2 38,396.6 39.2,398.1 39.1,399.8 39.1,401.6 39.4,403.3 39.8,405 39.9,406.7 39.7,408.3 40.1,409.9 39.8,411.5 39.8,413.2 40.5,414.7 40.2,416.4 40.4,418 40.3,419.6 40.3,421.2 40.5,422.9 40.1,424.7 40.3,426.5 40.7,428.2 40.9,429.9 40.9,431.7 40.7,433.4 40.9,435 40.9,436.7 41.2,438.3 41.4,440 41.5,441.7 41.3,443.5 41.4,445.2 41.4,446.9 41.7,448.6 42,450.3 42.2,452.1 42.2,453.8 42.6,455.5 42.6,457.3 43.1,459 43.2,460.7 43.3,462.5 43.2,464.3 43.8,465.9 43.7,467.7 43.5,469.5 44,471.2 44.2,472.9" fill="none" stroke="#111" stroke-width="1.6" stroke-linejoin="round" stroke-linecap="round"/><polyline points="44.2,472.9 44.3,474.6 44.1,476.4 44.5,478.1 44.8,479.8 45.1,481.5 44.9,483.3 45.3,485 45.9,486.7 46.2,488.4 46,490.2" fill="none" stroke="#111" stroke-width="1.8" stroke-linejoin="round" stroke-linecap="round"/><polyline points="46,490.2 46.2,492 47.5,493.5 48.1,495.3 48.3,497.1 48.8,498.8 48.7,500.6 49.3,502.3 49.8,504 50,505.8 50.4,507.4" fill="none" stroke="#111" stroke-width="2.0" stroke-linejoin="round" stroke-linecap="round"/><polyline points="50.4,507.4 50.4,509 51.1,510.6 51,512.2 51.6,513.8 51.7,515.4 51.9,517.1 52.4,518.8 52.2,520.6 52.6,522.3 52.9,524.1" fill="none" stroke="#111" stroke-width="2.2" stroke-linejoin="round" stroke-linecap="round"/><polyline points="52.9,524.1 53.7,525.8 54.3,527.5 54.6,529.3 55.2,531 55.9,532.5 56.5,533.9 57.6,535.2 58,536.8 59.1,538 59.5,539.6 60.3,541.4 61.5,542.9 62,544.8 63,546.5 63.4,548.3 64.3,549.9 64.2,551.8 64.7,553.6 65.6,555.2 65.9,556.9 66.8,558.3 67.3,560 68,561.5 68.2,563.2 69.1,564.7 70.1,566 70.6,567.6 71.3,569 72.8,570 73.4,571.6 74.3,573.1 75.7,574.1 76.6,575.5 77.7,576.8 79.1,577.7 80.8,578.1 82.3,578.7 83.8,579.4 85.6,579.4 87.2,580.4 89,580 90.7,580.6 92.6,581 94.4,580.4 96.3,580.7 98.1,580.9 100,580.8" fill="none" stroke="#111" stroke-width="2.4" stroke-linejoin="round" stroke-linecap="round"/><polygon points="31.6,391 34.3,388 35.8,387.7 36.8,395 39.2,397.5 40.2,406.7 39.3,407 38.3,401 36.2,400 35.3,409 34.2,409 33.8,402 32.8,400 32.2,405 31.4,404" fill="#111" stroke="none"/><polyline points="21.8,367.7 23.5,581.5 192,580.5" fill="none" stroke="#000" stroke-width="1.4"/><line x1="21" y1="581.5" x2="23.5" y2="581.5" stroke="#111" stroke-width="1.2"/><line x1="20.6" y1="528" x2="23.1" y2="528" stroke="#111" stroke-width="1.2"/><line x1="20.1" y1="474.6" x2="22.6" y2="474.6" stroke="#111" stroke-width="1.2"/><line x1="19.7" y1="421.1" x2="22.2" y2="421.1" stroke="#111" stroke-width="1.2"/><line x1="19.3" y1="367.7" x2="21.8" y2="367.7" stroke="#111" stroke-width="1.2"/><line x1="23.5" y1="581.5" x2="23.5" y2="584" stroke="#111" stroke-width="0.9"/><line x1="36.2" y1="581.4" x2="36.2" y2="582.9" stroke="#111" stroke-width="0.9"/><line x1="43.6" y1="581.4" x2="43.6" y2="582.9" stroke="#111" stroke-width="0.9"/><line x1="48.9" y1="581.3" x2="48.9" y2="582.8" stroke="#111" stroke-width="0.9"/><line x1="52.9" y1="581.3" x2="52.9" y2="582.8" stroke="#111" stroke-width="0.9"/><line x1="56.3" y1="581.3" x2="56.3" y2="582.8" stroke="#111" stroke-width="0.9"/><line x1="59.1" y1="581.3" x2="59.1" y2="582.8" stroke="#111" stroke-width="0.9"/><line x1="61.5" y1="581.3" x2="61.5" y2="582.8" stroke="#111" stroke-width="0.9"/><line x1="63.7" y1="581.3" x2="63.7" y2="582.8" stroke="#111" stroke-width="0.9"/><line x1="65.6" y1="581.2" x2="65.6" y2="583.8" stroke="#111" stroke-width="0.9"/><line x1="78.3" y1="581.2" x2="78.3" y2="582.7" stroke="#111" stroke-width="0.9"/><line x1="85.7" y1="581.1" x2="85.7" y2="582.6" stroke="#111" stroke-width="0.9"/><line x1="91" y1="581.1" x2="91" y2="582.6" stroke="#111" stroke-width="0.9"/><line x1="95.1" y1="581.1" x2="95.1" y2="582.6" stroke="#111" stroke-width="0.9"/><line x1="98.4" y1="581.1" x2="98.4" y2="582.6" stroke="#111" stroke-width="0.9"/><line x1="101.2" y1="581" x2="101.2" y2="582.5" stroke="#111" stroke-width="0.9"/><line x1="103.7" y1="581" x2="103.7" y2="582.5" stroke="#111" stroke-width="0.9"/><line x1="105.8" y1="581" x2="105.8" y2="582.5" stroke="#111" stroke-width="0.9"/><line x1="107.8" y1="581" x2="107.8" y2="583.5" stroke="#111" stroke-width="0.9"/><line x1="120.4" y1="580.9" x2="120.4" y2="582.4" stroke="#111" stroke-width="0.9"/><line x1="127.8" y1="580.9" x2="127.8" y2="582.4" stroke="#111" stroke-width="0.9"/><line x1="133.1" y1="580.8" x2="133.1" y2="582.3" stroke="#111" stroke-width="0.9"/><line x1="137.2" y1="580.8" x2="137.2" y2="582.3" stroke="#111" stroke-width="0.9"/><line x1="140.5" y1="580.8" x2="140.5" y2="582.3" stroke="#111" stroke-width="0.9"/><line x1="143.3" y1="580.8" x2="143.3" y2="582.3" stroke="#111" stroke-width="0.9"/><line x1="145.8" y1="580.8" x2="145.8" y2="582.3" stroke="#111" stroke-width="0.9"/><line x1="147.9" y1="580.8" x2="147.9" y2="582.3" stroke="#111" stroke-width="0.9"/><line x1="149.9" y1="580.8" x2="149.9" y2="583.2" stroke="#111" stroke-width="0.9"/><line x1="162.6" y1="580.7" x2="162.6" y2="582.2" stroke="#111" stroke-width="0.9"/><line x1="170" y1="580.6" x2="170" y2="582.1" stroke="#111" stroke-width="0.9"/><line x1="175.2" y1="580.6" x2="175.2" y2="582.1" stroke="#111" stroke-width="0.9"/><line x1="179.3" y1="580.6" x2="179.3" y2="582.1" stroke="#111" stroke-width="0.9"/><line x1="182.7" y1="580.6" x2="182.7" y2="582.1" stroke="#111" stroke-width="0.9"/><line x1="185.5" y1="580.5" x2="185.5" y2="582" stroke="#111" stroke-width="0.9"/><line x1="187.9" y1="580.5" x2="187.9" y2="582" stroke="#111" stroke-width="0.9"/><line x1="190.1" y1="580.5" x2="190.1" y2="582" stroke="#111" stroke-width="0.9"/><line x1="192" y1="580.5" x2="192" y2="583" stroke="#111" stroke-width="0.9"/><text transform="translate(18,373.8) rotate(-90)" font-family="&quot;Liberation Sans&quot;, sans-serif" font-size="9.3" font-weight="normal" fill="#000" textLength="11.3" lengthAdjust="spacingAndGlyphs" stroke="#000" stroke-width="0.35">80</text><text transform="translate(19,585.5) rotate(-90)" font-family="&quot;Liberation Sans&quot;, sans-serif" font-size="9" font-weight="normal" fill="#000" stroke="#000" stroke-width="0.35">0</text><text transform="translate(12,492.9) rotate(-90)" font-family="&quot;Liberation Sans&quot;, sans-serif" font-size="8.8" font-weight="normal" fill="#000" textLength="33.6" lengthAdjust="spacingAndGlyphs" stroke="#000" stroke-width="0.1">Events</text><text x="19.3" y="594.3" font-family="&quot;Liberation Sans&quot;, sans-serif" font-size="10" font-weight="normal" fill="#000" textLength="8.4" lengthAdjust="spacingAndGlyphs" stroke="#000" stroke-width="0.35">10</text><text x="28.7" y="589.3" font-family="&quot;Liberation Sans&quot;, sans-serif" font-size="6" font-weight="normal" fill="#000" stroke="#000" stroke-width="0.35">0</text><text x="61.4" y="594" font-family="&quot;Liberation Sans&quot;, sans-serif" font-size="10" font-weight="normal" fill="#000" textLength="8.4" lengthAdjust="spacingAndGlyphs" stroke="#000" stroke-width="0.35">10</text><text x="70.8" y="589" font-family="&quot;Liberation Sans&quot;, sans-serif" font-size="6" font-weight="normal" fill="#000" stroke="#000" stroke-width="0.35">1</text><text x="103.5" y="593.8" font-family="&quot;Liberation Sans&quot;, sans-serif" font-size="10" font-weight="normal" fill="#000" textLength="8.4" lengthAdjust="spacingAndGlyphs" stroke="#000" stroke-width="0.35">10</text><text x="113" y="588.8" font-family="&quot;Liberation Sans&quot;, sans-serif" font-size="6" font-weight="normal" fill="#000" stroke="#000" stroke-width="0.35">2</text><text x="145.7" y="593.5" font-family="&quot;Liberation Sans&quot;, sans-serif" font-size="10" font-weight="normal" fill="#000" textLength="8.4" lengthAdjust="spacingAndGlyphs" stroke="#000" stroke-width="0.35">10</text><text x="155.1" y="588.5" font-family="&quot;Liberation Sans&quot;, sans-serif" font-size="6" font-weight="normal" fill="#000" stroke="#000" stroke-width="0.35">3</text><text x="187.8" y="593.3" font-family="&quot;Liberation Sans&quot;, sans-serif" font-size="10" font-weight="normal" fill="#000" textLength="8.4" lengthAdjust="spacingAndGlyphs" stroke="#000" stroke-width="0.35">10</text><text x="197.2" y="588.3" font-family="&quot;Liberation Sans&quot;, sans-serif" font-size="6" font-weight="normal" fill="#000" stroke="#000" stroke-width="0.35">4</text><text x="82.7" y="608" font-family="&quot;Liberation Sans&quot;, sans-serif" font-size="10" font-weight="normal" fill="#000" textLength="50" lengthAdjust="spacingAndGlyphs" stroke="#000" stroke-width="0.35">Fluorescence</text><text x="114.2" y="501.2" font-family="&quot;Liberation Serif&quot;, serif" font-size="15.5" font-weight="normal" fill="#000" textLength="84.6" lengthAdjust="spacingAndGlyphs" stroke="#000" stroke-width="0.3">GPIb&#946; &#916;1-26</text><line x1="94.5" y1="514.5" x2="110.5" y2="498.5" stroke="#111" stroke-width="2"/></g>
<g><text x="294.8" y="358.2" font-family="&quot;Liberation Sans&quot;, sans-serif" font-size="26" font-weight="bold" fill="#000">D</text><polygon points="316.8,581.8 316.8,580 318.2,578.5 318.7,576.7 318.9,574.8 319.5,576.5 321.2,577.1 322.4,578.3 323.9,577.2 325.8,577.4 327.6,576.2 329.3,574.8 331.5,574.9 332.8,573.1 334.2,571.5 336.2,570.5 338,573.1 338,570.9 339.3,569.4 340.6,567.9 341.8,566.3 341.5,564 343.2,562.7 345.3,561.6 345.7,559.2 345.8,557.1 347.5,555.8 347.4,553.9 348.5,552.3 349.4,550.7 348.7,548.6 350.1,547.1 350.4,545.1 351.9,543.7 352.7,541.9 353.7,540.3 353,538.2 354.4,536.7 354.4,535 354.5,533.2 354.2,531.5 354.2,529.7 354.8,528 356.2,526.4 355.3,524.6 354.6,522.8 355.6,521.1 356,519.4 356.1,517.7 358.7,516 360.4,514.5 361.3,512.5 362.1,510.7 363.1,509 363.3,511.1 364.1,512.8 365.7,514.2 366.7,512.6 367.4,510.8 369.1,512.5 369.3,510.8 369.1,508.9 370.5,507.4 369.2,505.4 370.4,503.8 370.8,502.1 371.5,500.5 371.7,498.7 371.9,500.4 371.5,502.3 373.2,503.7 372.1,505.7 372.2,507.4 373.4,509 373.7,511.1 375.2,512.5 374.5,510.7 376.1,509.1 376.2,507.4 376,505.6 376.4,503.9 376.6,502.2 377.1,500.5 376,498.6 376.7,496.9 376.9,495.2 377.8,493.5 377.7,495.2 377.5,497 377.7,498.7 377.7,500.4 378.6,502.1 380.4,499.5 381.2,501.3 382.1,503 382.8,504.9 384.7,505.6 385.5,507.3 385.5,509.2 386.4,510.8 387.1,512.6 388.2,514.2 388.4,516 390.1,517.4 389.9,519.4 391.4,520.8 391.5,522.7 391.6,524.6 392.7,526 393,527.6 392.8,529.4 394.1,530.7 394.2,532.4 394.5,534.8 395.9,536.7 397.9,534.8 399,536.3 399.4,537.9 399.4,539.6 400,541.2 398.8,543.1 398.9,544.8 399.8,546.3 400.6,548.4 402.7,549.2 404.2,550.6 405.6,552.1 406.7,550.3 407.5,548.3 407.1,550.4 407.7,552.3 408.9,554.1 409.4,556 412.3,556.9 412.7,558.6 415,558.9 415.2,560.8 418.1,561.7 419.9,562.6 420,564.6 422.9,563.7 423.7,565.4 425,566.8 425.8,568.5 428.7,567.5 431.5,566.5 432.9,567.9 432.6,569.9 432,571.9 433.5,573.3 434.6,571.5 436.3,570.4 437.2,568.4 439.2,567.5 440,569.2 441.7,570.3 442.1,572.3 445,571.3 446,569.7 447.9,569.4 449.4,570.3 449.5,572.2 450.8,573.3 453.7,574.2 455.1,575.2 456.5,576.2 457.4,577.9 459.4,578.1 461.1,579.5 463.3,580 464.8,581.1 466.6,579.8 468.1,580.6 468.1,581" fill="#d6d6d6" stroke="none"/><polyline points="316.8,580 318.2,578.5 318.7,576.7 318.9,574.8 319.5,576.5 321.2,577.1 322.4,578.3 323.9,577.2 325.8,577.4 327.6,576.2 329.3,574.8 331.5,574.9 332.8,573.1 334.2,571.5 336.2,570.5 338,573.1 338,570.9 339.3,569.4 340.6,567.9 341.8,566.3 341.5,564 343.2,562.7 345.3,561.6 345.7,559.2 345.8,557.1 347.5,555.8 347.4,553.9 348.5,552.3 349.4,550.7 348.7,548.6 350.1,547.1 350.4,545.1 351.9,543.7 352.7,541.9 353.7,540.3 353,538.2 354.4,536.7 354.4,535 354.5,533.2 354.2,531.5 354.2,529.7 354.8,528 356.2,526.4 355.3,524.6 354.6,522.8 355.6,521.1 356,519.4 356.1,517.7 358.7,516 360.4,514.5 361.3,512.5 362.1,510.7 363.1,509 363.3,511.1 364.1,512.8 365.7,514.2 366.7,512.6 367.4,510.8 369.1,512.5 369.3,510.8 369.1,508.9 370.5,507.4 369.2,505.4 370.4,503.8 370.8,502.1 371.5,500.5 371.7,498.7 371.9,500.4 371.5,502.3 373.2,503.7 372.1,505.7 372.2,507.4 373.4,509 373.7,511.1 375.2,512.5 374.5,510.7 376.1,509.1 376.2,507.4 376,505.6 376.4,503.9 376.6,502.2 377.1,500.5 376,498.6 376.7,496.9 376.9,495.2 377.8,493.5 377.7,495.2 377.5,497 377.7,498.7 377.7,500.4 378.6,502.1 380.4,499.5 381.2,501.3 382.1,503 382.8,504.9 384.7,505.6 385.5,507.3 385.5,509.2 386.4,510.8 387.1,512.6 388.2,514.2 388.4,516 390.1,517.4 389.9,519.4 391.4,520.8 391.5,522.7 391.6,524.6 392.7,526 393,527.6 392.8,529.4 394.1,530.7 394.2,532.4 394.5,534.8 395.9,536.7 397.9,534.8 399,536.3 399.4,537.9 399.4,539.6 400,541.2 398.8,543.1 398.9,544.8 399.8,546.3 400.6,548.4 402.7,549.2 404.2,550.6 405.6,552.1 406.7,550.3 407.5,548.3 407.1,550.4 407.7,552.3 408.9,554.1 409.4,556 412.3,556.9 412.7,558.6 415,558.9 415.2,560.8 418.1,561.7 419.9,562.6 420,564.6 422.9,563.7 423.7,565.4 425,566.8 425.8,568.5 428.7,567.5 431.5,566.5 432.9,567.9 432.6,569.9 432,571.9 433.5,573.3 434.6,571.5 436.3,570.4 437.2,568.4 439.2,567.5 440,569.2 441.7,570.3 442.1,572.3 445,571.3 446,569.7 447.9,569.4 449.4,570.3 449.5,572.2 450.8,573.3 453.7,574.2 455.1,575.2 456.5,576.2 457.4,577.9 459.4,578.1 461.1,579.5 463.3,580 464.8,581.1 466.6,579.8 468.1,580.6" fill="none" stroke="#111" stroke-width="2.0" stroke-linejoin="round"/><polyline points="316.4,581.5 317,579.9 316.6,578.1 316.9,576.5 317.3,574.8 317.2,573.1 317.7,571.4 317.1,569.6 317.4,567.9 317.7,566.2 318,564.4 318.1,562.7 318.3,561 318.2,559.2 318.6,557.5 318.6,555.8 318.9,554 318.8,552.2 319.7,550.6 319.8,548.8 319.9,547 320,545.3 320.3,543.6 320.9,541.9 321.5,540.3 321.5,538.5 321.7,536.8 322,535 321.8,533.2 322.2,531.5 322.8,529.8 322.9,528.1 323.2,526.4 323.2,524.6 323.3,522.9 323.6,521.1 323.6,519.4 323.7,517.7 324.4,516 324.6,514.3 324.3,512.5 324.3,510.7 324.9,509 325,507.3 325.5,505.5 325.4,503.6 326.1,501.9 326,500 325.8,498.2 326,496.4 326.4,494.6 326.3,492.7 326.5,490.9 326.5,489.1 326.4,487.3 326.7,485.7 326.1,484.1 326.3,482.5 326.8,480.9 326.2,479.3 327,477.7 326.3,476.1 327,474.5 326.6,472.9 327.2,471.3 326.5,469.7 326.9,468.1 327.1,466.4 327.1,464.7 326.8,463 327,461.3 326.8,459.6 327.6,458 327.5,456.3 327.4,454.6 328.1,452.7 327.8,450.7 328.5,448.8 328.4,447.2 328.8,445.6 328.9,443.9 328.6,442.3 328.7,440.7 328.5,439.1 328.4,437.4 328.8,435.8 328.5,434.2 329.1,432.6 328.5,430.9 329,429.3 328.8,427.7 329.1,426.1 329.4,424.4 329.9,422.8 330.1,421.2 331,419.5 331.8,417.7 331.8,415.9 332.5,414.3 332.1,412.4 332.6,410.7 333,409" fill="none" stroke="#111" stroke-width="1.7" stroke-linejoin="round"/><polyline points="333,409 333.4,410.6 333.8,412.2 334.4,413.8 334.7,415.4 336.8,416.5 337.5,418.2 337.9,420 337.9,421.8 338.1,423.6 337.9,425.4 337.9,427.1 338,428.9 338.1,430.7 338,432.5 338.2,434.1 338.3,435.7 338.4,437.3 338.8,438.9 339,440.5 339.4,442.1 339.4,443.9 340,445.6 339.8,447.4 340.5,449.1 340.1,450.9 340.4,452.7 340.8,454.7 341.8,456.5 341.9,458.1 342.4,459.7 342.2,461.3 342.6,462.9 342.5,464.6 342.6,466.2 342.5,468.1 343.3,470 343.1,471.9 343.3,473.8 343.6,475.5 343.5,477.1 343.8,478.8 343.2,480.5 343.3,482.1 343.3,483.8 343.6,485.4" fill="none" stroke="#111" stroke-width="1.6" stroke-linejoin="round" stroke-linecap="round"/><polyline points="343.6,485.4 343.8,487.1 343.8,488.8 343.5,490.4 343.9,492.1 345.2,494 345.6,495.6 345.7,497.2 346.1,498.8 344.9,498.7 345.4,500.4" fill="none" stroke="#111" stroke-width="1.8" stroke-linejoin="round" stroke-linecap="round"/><polyline points="345.4,500.4 345,502.2 345.1,503.9 345.5,505.6 345.7,507.3 348.3,505.6 348.7,507.3 348.9,509 348.6,510.8 349.2,512.5 350.3,510.8 350.9,509 351,510.7 350.9,512.5 351,514.2 351.7,515.9" fill="none" stroke="#111" stroke-width="2.0" stroke-linejoin="round" stroke-linecap="round"/><polyline points="351.7,515.9 351.3,517.7 351.8,519.4 352.2,521.2 353.1,522.8 353.5,524.6 353.4,526.4 353.7,528.1 354.4,529.8 354.7,531.6" fill="none" stroke="#111" stroke-width="2.2" stroke-linejoin="round" stroke-linecap="round"/><polyline points="354.7,531.6 354.8,533.3 355.8,534.9 355.9,536.7 356.1,538.5 356.7,540.3 357.1,542.1 357.8,543.8 358.7,545.4 359.4,547.1 359.8,548.9 360.7,550.6 361.3,552.3 362,553.8 363.3,555 363.9,556.6 365.7,559.2 366.5,561 367.4,562.7 367.3,564.5 367.7,566.2 368.3,567.8 368.2,569.6 369.2,571.6 370.8,573.1 372.7,574.2 374.3,575.7 375.9,576.8 377.8,577.4 379.5,578.2 381.2,579.1 383,579.4 384.7,580 386.4,579.8 388.1,580.2 389.8,580.5 391.5,580.8 393.3,580.9 395,580.8" fill="none" stroke="#111" stroke-width="2.4" stroke-linejoin="round" stroke-linecap="round"/><polygon points="331.8,409.5 332.6,408.4 334,408.6 334.8,415 336.8,416 338.5,419.5 338.6,430 337,430 336.5,421 334.5,420.5 333,421 330.5,424 329.3,428 329,424 330.3,420 331.8,417" fill="#111" stroke="none"/><polyline points="315,372.6 316.4,581.8 486.5,581" fill="none" stroke="#000" stroke-width="1.4"/><line x1="313.9" y1="581.8" x2="316.4" y2="581.8" stroke="#111" stroke-width="1.2"/><line x1="313.5" y1="529.5" x2="316" y2="529.5" stroke="#111" stroke-width="1.2"/><line x1="313.2" y1="477.2" x2="315.7" y2="477.2" stroke="#111" stroke-width="1.2"/><line x1="312.9" y1="424.9" x2="315.4" y2="424.9" stroke="#111" stroke-width="1.2"/><line x1="312.5" y1="372.6" x2="315" y2="372.6" stroke="#111" stroke-width="1.2"/><line x1="316.4" y1="581.8" x2="316.4" y2="584.3" stroke="#111" stroke-width="0.9"/><line x1="329.2" y1="581.7" x2="329.2" y2="583.2" stroke="#111" stroke-width="0.9"/><line x1="336.7" y1="581.7" x2="336.7" y2="583.2" stroke="#111" stroke-width="0.9"/><line x1="342" y1="581.7" x2="342" y2="583.2" stroke="#111" stroke-width="0.9"/><line x1="346.1" y1="581.7" x2="346.1" y2="583.2" stroke="#111" stroke-width="0.9"/><line x1="349.5" y1="581.6" x2="349.5" y2="583.1" stroke="#111" stroke-width="0.9"/><line x1="352.3" y1="581.6" x2="352.3" y2="583.1" stroke="#111" stroke-width="0.9"/><line x1="354.8" y1="581.6" x2="354.8" y2="583.1" stroke="#111" stroke-width="0.9"/><line x1="357" y1="581.6" x2="357" y2="583.1" stroke="#111" stroke-width="0.9"/><line x1="358.9" y1="581.6" x2="358.9" y2="584.1" stroke="#111" stroke-width="0.9"/><line x1="371.7" y1="581.5" x2="371.7" y2="583" stroke="#111" stroke-width="0.9"/><line x1="379.2" y1="581.5" x2="379.2" y2="583" stroke="#111" stroke-width="0.9"/><line x1="384.5" y1="581.5" x2="384.5" y2="583" stroke="#111" stroke-width="0.9"/><line x1="388.6" y1="581.5" x2="388.6" y2="583" stroke="#111" stroke-width="0.9"/><line x1="392" y1="581.4" x2="392" y2="582.9" stroke="#111" stroke-width="0.9"/><line x1="394.9" y1="581.4" x2="394.9" y2="582.9" stroke="#111" stroke-width="0.9"/><line x1="397.3" y1="581.4" x2="397.3" y2="582.9" stroke="#111" stroke-width="0.9"/><line x1="399.5" y1="581.4" x2="399.5" y2="582.9" stroke="#111" stroke-width="0.9"/><line x1="401.4" y1="581.4" x2="401.4" y2="583.9" stroke="#111" stroke-width="0.9"/><line x1="414.3" y1="581.3" x2="414.3" y2="582.8" stroke="#111" stroke-width="0.9"/><line x1="421.7" y1="581.3" x2="421.7" y2="582.8" stroke="#111" stroke-width="0.9"/><line x1="427.1" y1="581.3" x2="427.1" y2="582.8" stroke="#111" stroke-width="0.9"/><line x1="431.2" y1="581.3" x2="431.2" y2="582.8" stroke="#111" stroke-width="0.9"/><line x1="434.5" y1="581.2" x2="434.5" y2="582.7" stroke="#111" stroke-width="0.9"/><line x1="437.4" y1="581.2" x2="437.4" y2="582.7" stroke="#111" stroke-width="0.9"/><line x1="439.9" y1="581.2" x2="439.9" y2="582.7" stroke="#111" stroke-width="0.9"/><line x1="442" y1="581.2" x2="442" y2="582.7" stroke="#111" stroke-width="0.9"/><line x1="444" y1="581.2" x2="444" y2="583.7" stroke="#111" stroke-width="0.9"/><line x1="456.8" y1="581.1" x2="456.8" y2="582.6" stroke="#111" stroke-width="0.9"/><line x1="464.3" y1="581.1" x2="464.3" y2="582.6" stroke="#111" stroke-width="0.9"/><line x1="469.6" y1="581.1" x2="469.6" y2="582.6" stroke="#111" stroke-width="0.9"/><line x1="473.7" y1="581.1" x2="473.7" y2="582.6" stroke="#111" stroke-width="0.9"/><line x1="477.1" y1="581" x2="477.1" y2="582.5" stroke="#111" stroke-width="0.9"/><line x1="479.9" y1="581" x2="479.9" y2="582.5" stroke="#111" stroke-width="0.9"/><line x1="482.4" y1="581" x2="482.4" y2="582.5" stroke="#111" stroke-width="0.9"/><line x1="484.6" y1="581" x2="484.6" y2="582.5" stroke="#111" stroke-width="0.9"/><line x1="486.5" y1="581" x2="486.5" y2="583.5" stroke="#111" stroke-width="0.9"/><text transform="translate(311.1,377.7) rotate(-90)" font-family="&quot;Liberation Sans&quot;, sans-serif" font-size="9.3" font-weight="normal" fill="#000" textLength="11.1" lengthAdjust="spacingAndGlyphs" stroke="#000" stroke-width="0.35">80</text><text transform="translate(312.3,585.5) rotate(-90)" font-family="&quot;Liberation Sans&quot;, sans-serif" font-size="9" font-weight="normal" fill="#000" stroke="#000" stroke-width="0.35">0</text><text transform="translate(304.7,494.9) rotate(-90)" font-family="&quot;Liberation Sans&quot;, sans-serif" font-size="8.8" font-weight="normal" fill="#000" textLength="34" lengthAdjust="spacingAndGlyphs" stroke="#000" stroke-width="0.1">Events</text><text x="312.2" y="594.6" font-family="&quot;Liberation Sans&quot;, sans-serif" font-size="10" font-weight="normal" fill="#000" textLength="8.4" lengthAdjust="spacingAndGlyphs" stroke="#000" stroke-width="0.35">10</text><text x="321.6" y="589.6" font-family="&quot;Liberation Sans&quot;, sans-serif" font-size="6" font-weight="normal" fill="#000" stroke="#000" stroke-width="0.35">0</text><text x="354.7" y="594.4" font-family="&quot;Liberation Sans&quot;, sans-serif" font-size="10" font-weight="normal" fill="#000" textLength="8.4" lengthAdjust="spacingAndGlyphs" stroke="#000" stroke-width="0.35">10</text><text x="364.1" y="589.4" font-family="&quot;Liberation Sans&quot;, sans-serif" font-size="6" font-weight="normal" fill="#000" stroke="#000" stroke-width="0.35">1</text><text x="397.2" y="594.2" font-family="&quot;Liberation Sans&quot;, sans-serif" font-size="10" font-weight="normal" fill="#000" textLength="8.4" lengthAdjust="spacingAndGlyphs" stroke="#000" stroke-width="0.35">10</text><text x="406.6" y="589.2" font-family="&quot;Liberation Sans&quot;, sans-serif" font-size="6" font-weight="normal" fill="#000" stroke="#000" stroke-width="0.35">2</text><text x="439.8" y="594" font-family="&quot;Liberation Sans&quot;, sans-serif" font-size="10" font-weight="normal" fill="#000" textLength="8.4" lengthAdjust="spacingAndGlyphs" stroke="#000" stroke-width="0.35">10</text><text x="449.2" y="589" font-family="&quot;Liberation Sans&quot;, sans-serif" font-size="6" font-weight="normal" fill="#000" stroke="#000" stroke-width="0.35">3</text><text x="482.3" y="593.8" font-family="&quot;Liberation Sans&quot;, sans-serif" font-size="10" font-weight="normal" fill="#000" textLength="8.4" lengthAdjust="spacingAndGlyphs" stroke="#000" stroke-width="0.35">10</text><text x="491.7" y="588.8" font-family="&quot;Liberation Sans&quot;, sans-serif" font-size="6" font-weight="normal" fill="#000" stroke="#000" stroke-width="0.35">4</text><text x="375.7" y="607.9" font-family="&quot;Liberation Sans&quot;, sans-serif" font-size="10" font-weight="normal" fill="#000" textLength="49.5" lengthAdjust="spacingAndGlyphs" stroke="#000" stroke-width="0.35">Fluorescence</text><text x="415.4" y="493" font-family="&quot;Liberation Serif&quot;, serif" font-size="15.5" font-weight="normal" fill="#000" textLength="83.5" lengthAdjust="spacingAndGlyphs" stroke="#000" stroke-width="0.3">GPIb&#946; &#916;1-31</text><line x1="395" y1="506.9" x2="412.3" y2="491.5" stroke="#111" stroke-width="2"/></g>
<g><text x="-0.2" y="645.8" font-family="&quot;Liberation Sans&quot;, sans-serif" font-size="26" font-weight="bold" fill="#000">E</text><polygon points="25.4,876.2 25.4,876 24.4,874.4 24.4,872.7 24.9,871.1 24.9,869.5 26.3,867.8 24.5,866.2 24.7,864.5 24.9,862.9 26.2,861.3 24.6,859.6 25.3,858 25,856.4 25.4,854.7 26.3,853.1 24.7,851.5 26,849.8 24.6,848.2 24.7,846.5 25.9,844.9 26.4,843.3 25.6,841.6 25.6,840 26.6,838.5 26.6,836.8 26.1,835.2 25.1,833.6 25.8,832 26.1,830.4 26.2,828.7 25.8,826.9 26.2,825.2 27.8,823.6 27.8,821.8 27.2,820 27.5,818.3 26.5,816.5 27.2,814.8 26.9,813 28.3,811.4 27.6,809.6 28.3,807.9 28.4,806.2 28.5,804.4 29,802.7 29.4,801 29.5,799.3 28.4,797.5 28.6,795.8 29.6,794.1 29.3,792.3 29.3,790.6 28.6,788.9 29.8,787.4 29.6,785.7 31,784.2 30.9,782.6 29.3,780.8 30.4,779.2 30.8,777.7 30.6,776 29.9,774.3 30.5,772.7 31.7,771 30.5,769.3 30.2,767.6 30.5,766 32,764.4 30.8,762.6 30.8,761 32.6,759.4 31.6,757.7 31.7,756 31.2,754.2 32.8,752.5 32.7,750.6 32.2,748.8 32.8,747 32.4,745.2 32.6,743.5 31.7,741.8 31.9,740.1 33.5,738.5 33.3,736.8 33,735.1 33.3,733.4 33.3,731.7 32.6,730 33.6,728.3 33.5,726.5 33.8,724.7 32.6,722.9 32.1,721.1 33.2,719.4 33.2,717.6 34,715.8 33.2,714 33.5,712.2 33.2,710.4 34.2,708.6 33.5,706.8 33.9,705 35.4,703.7 35.7,701.7 36.5,700 38,698 39.6,700 39.7,701.9 40.7,703.4 41.5,705 42.5,706.7 42.4,708.5 41.6,710.4 42.4,712.2 41.6,714.1 42.3,715.8 42.6,717.6 43.2,719.3 42.1,721.2 43.5,722.9 42.6,724.8 42.7,726.6 44.1,728.2 44,730 45.1,731.6 43.2,733.5 44.3,735.1 44.9,736.7 44.9,738.4 43.8,740.2 43.8,741.9 44.3,743.6 45.1,745.2 44.9,746.8 44.6,748.5 46.3,750 45.6,751.7 44.8,753.4 45.1,755 45.9,756.5 46.9,758.1 45.8,759.8 46.5,761.4 45.6,763.1 46.8,764.6 46.8,766.3 46.7,768.1 46.5,769.9 47.8,771.4 46.9,773.3 48.4,774.8 48.6,776.6 48.7,778.3 49.1,779.9 48.3,781.7 48.9,783.3 49.6,785 49.7,786.6 48.8,788.4 50,790 50.7,791.6 49.2,793.3 50.6,794.9 49.4,796.6 49.6,798.2 50.9,799.9 50,801.5 50.8,803.1 50.1,805 50.7,806.6 50.7,808.4 51.7,809.9 52.2,811.5 53,813.1 52.5,814.8 52.8,816.5 53.4,818 54.2,819.6 54.2,821.3 54.7,822.9 54.3,824.6 55,826.2 54.4,828.3 55.2,829.9 56.1,831.4 56.7,833 56.9,834.8 58.3,836.2 58.6,838.2 60.6,838.9 61.6,840.4 61.9,842.3 64.2,842.8 63.8,845.3 65.2,846.4 66.4,847.7 67.6,849.2 67,851.4 67.9,853 70.3,853.8 69.9,856 70.1,857.9 71.6,859.2 73.2,859.9 74.5,861.1 75.9,862.1 76.3,864.1 77.5,865.3 78.6,866.6 80.6,866.8 81.4,868.5 83.2,869.2 84,871.1 85.7,872 87.2,873.1 89,872.7 90.3,874.1 91.8,874.7 93.6,874.2 95,875.2 96.6,876.2 98.3,876.2 100,875.6 101.7,874.7 103.4,875.2 105,875.8 105,875" fill="#d6d6d6" stroke="none"/><polygon points="51.5,790 52.1,795.8 53.3,801.5 58.5,813.1 62.5,824.6 66.5,836.2 71.2,847.7 78.1,859.2 88.5,868.5 97.7,873.1 105,875.5 86.2,874 80.4,868.5 70.6,859.2 65.4,847.7 57.3,836.2 53.3,824.6 52.1,813.1 49.2,801.5 49.2,795.8 49.2,790" fill="#707070" stroke="none"/><polyline points="25.4,876 24.4,874.4 24.4,872.7 24.9,871.1 24.9,869.5 26.3,867.8 24.5,866.2 24.7,864.5 24.9,862.9 26.2,861.3 24.6,859.6 25.3,858 25,856.4 25.4,854.7 26.3,853.1 24.7,851.5 26,849.8 24.6,848.2 24.7,846.5 25.9,844.9 26.4,843.3 25.6,841.6 25.6,840 26.6,838.5 26.6,836.8 26.1,835.2 25.1,833.6 25.8,832 26.1,830.4 26.2,828.7 25.8,826.9 26.2,825.2 27.8,823.6 27.8,821.8 27.2,820 27.5,818.3 26.5,816.5 27.2,814.8 26.9,813 28.3,811.4 27.6,809.6 28.3,807.9 28.4,806.2 28.5,804.4 29,802.7 29.4,801 29.5,799.3 28.4,797.5 28.6,795.8 29.6,794.1 29.3,792.3 29.3,790.6 28.6,788.9 29.8,787.4 29.6,785.7 31,784.2 30.9,782.6 29.3,780.8 30.4,779.2 30.8,777.7 30.6,776 29.9,774.3 30.5,772.7 31.7,771 30.5,769.3 30.2,767.6 30.5,766 32,764.4 30.8,762.6 30.8,761 32.6,759.4 31.6,757.7 31.7,756 31.2,754.2 32.8,752.5 32.7,750.6 32.2,748.8 32.8,747 32.4,745.2 32.6,743.5 31.7,741.8 31.9,740.1 33.5,738.5 33.3,736.8 33,735.1 33.3,733.4 33.3,731.7 32.6,730 33.6,728.3 33.5,726.5 33.8,724.7 32.6,722.9 32.1,721.1 33.2,719.4 33.2,717.6 34,715.8 33.2,714 33.5,712.2 33.2,710.4 34.2,708.6 33.5,706.8 33.9,705 35.4,703.7 35.7,701.7 36.5,700 38,698 39.6,700 39.7,701.9 40.7,703.4 41.5,705 42.5,706.7 42.4,708.5 41.6,710.4 42.4,712.2 41.6,714.1 42.3,715.8 42.6,717.6 43.2,719.3 42.1,721.2 43.5,722.9 42.6,724.8 42.7,726.6 44.1,728.2 44,730 45.1,731.6 43.2,733.5 44.3,735.1 44.9,736.7 44.9,738.4 43.8,740.2 43.8,741.9 44.3,743.6 45.1,745.2 44.9,746.8 44.6,748.5 46.3,750 45.6,751.7 44.8,753.4 45.1,755 45.9,756.5 46.9,758.1 45.8,759.8 46.5,761.4 45.6,763.1 46.8,764.6 46.8,766.3 46.7,768.1 46.5,769.9 47.8,771.4 46.9,773.3 48.4,774.8 48.6,776.6 48.7,778.3 49.1,779.9 48.3,781.7 48.9,783.3 49.6,785 49.7,786.6 48.8,788.4 50,790 50.7,791.6 49.2,793.3 50.6,794.9 49.4,796.6 49.6,798.2 50.9,799.9 50,801.5 50.8,803.1 50.1,805 50.7,806.6 50.7,808.4 51.7,809.9 52.2,811.5 53,813.1 52.5,814.8 52.8,816.5 53.4,818 54.2,819.6 54.2,821.3 54.7,822.9 54.3,824.6 55,826.2 54.4,828.3 55.2,829.9 56.1,831.4 56.7,833 56.9,834.8 58.3,836.2 58.6,838.2 60.6,838.9 61.6,840.4 61.9,842.3 64.2,842.8 63.8,845.3 65.2,846.4 66.4,847.7 67.6,849.2 67,851.4 67.9,853 70.3,853.8 69.9,856 70.1,857.9 71.6,859.2 73.2,859.9 74.5,861.1 75.9,862.1 76.3,864.1 77.5,865.3 78.6,866.6 80.6,866.8 81.4,868.5 83.2,869.2 84,871.1 85.7,872 87.2,873.1 89,872.7 90.3,874.1 91.8,874.7 93.6,874.2 95,875.2 96.6,876.2 98.3,876.2 100,875.6 101.7,874.7 103.4,875.2 105,875.8" fill="none" stroke="#111" stroke-width="1.8" stroke-linejoin="round"/><polyline points="25.4,876 25.5,874.4 25.6,872.7 25.3,871.1 25.4,869.5 25.6,867.8 25.7,866.2 25.6,864.5 25.2,862.9 25.5,861.3 25.7,859.6 25.5,858 25.5,856.4 25.5,854.7 25.5,853.1 25.4,851.5 25.7,849.8 25.5,848.2 25.4,846.5 25.8,844.9 25.5,843.3 25.4,841.6 25.6,840 25.7,838.4 26,836.8 25.6,835.2 26.1,833.6 26.1,832 26.1,830.4 26.1,828.6 26.3,826.9 26.5,825.2 26.6,823.4 27.1,821.7 27.2,820 27.4,818.3 27.4,816.5 27.6,814.8 27.7,813.1 27.7,811.3 28,809.6 28.3,807.9 28.5,806.2 28.7,804.5 28.6,802.7 28.6,801 28.8,799.3 28.9,797.5 28.9,795.8 29.1,794.1 29.3,792.3 29.3,790.6 29.4,789 29.6,787.4 30,785.8 30.1,784.1 29.9,782.5 30.3,780.9 30.2,779.2 30.6,777.6 30.6,776 30.5,774.3 30.8,772.7 30.7,771 30.8,769.3 31,767.7 31.2,766 31,764.3 31.2,762.7 31.2,761 31.4,759.3 31.7,757.7 31.7,756 31.7,754.2 31.8,752.4 31.9,750.6 32,748.8 32.5,747 32.4,745.2 32.6,743.5 32.3,741.8 32.6,740.1 32.7,738.4 32.5,736.8 32.7,735.1 32.5,733.4 32.5,731.7 32.6,730 32.9,728.2 32.7,726.5 33.1,724.7 33,722.9 33,721.1 33.3,719.4 33.2,717.6 33.1,715.8 33.6,714 33.7,712.2 33.8,710.4 33.9,708.6 33.9,706.8 33.9,705 33.9,703.1 34.3,701.2 34.6,699.3 34.7,697.4 34.9,695.5 34.8,693.6 35.3,691.8 35.4,689.9 35.2,688 35.2,686.4 35.4,684.8 35.2,683.1 35.3,681.5 35.1,679.9 35.4,678.3 35,676.7 35.3,675.1 35.3,673.5 35.3,671.8 35.4,670.2 35.3,668.6" fill="none" stroke="#111" stroke-width="1.2" stroke-linejoin="round"/><polyline points="35.3,668.6 37.4,669.1 39.6,669.5 39.8,671.1 39.4,672.7 39.9,674.3 39.8,675.9 39.5,677.5 39.8,679.1 39.6,680.8 39.8,682.4 40.1,684 39.9,685.6 40,687.2 40,688.8 40.1,690.5 40.3,692.1 40.4,693.8 40.3,695.5 40.5,697.4 40.9,699.3 41.2,701.2 41.2,703.1 41.5,705 41.5,706.8 41.8,708.6 42.1,710.4 42,712.2 42.2,714 42.5,715.8 42.6,717.6 42.7,719.4 43,721.1 43.4,722.9 43.5,724.7 43.6,726.5 43.7,728.2 44,730 44,731.7 44.1,733.4 44.3,735.1 44.6,736.7 44.6,738.4 44.8,740.1 45,741.8 45.1,743.5 45.1,745.2 45,746.8 45.3,748.4 45.4,750.1 45.8,751.7 45.6,753.3 46,754.9 46,756.5 46.2,758.1 46.5,759.7 46.3,761.4 46.8,763 46.8,764.6 47.3,766.3 47.3,768 47.3,769.8 47.9,771.4 48,773.2 48.4,774.9 48.3,776.6 48.7,778.3 48.8,780 49.1,781.7 49.6,783.3 49.6,785 50.1,786.6 50.3,788.3 50.4,790 50.7,791.9 51,793.9 51.1,795.8 51.5,797.7 52.1,799.6 52.3,801.5 53,803.2 53.8,804.8 54.4,806.5 55.2,808.1 55.8,809.9 56.6,811.5 57.5,813.1 58.2,814.7 58.6,816.4 59.4,818 59.9,819.6 60.2,821.4 61,822.9 61.5,824.6 62.1,826.2 62.7,827.9 63.3,829.5 63.8,831.2 64.5,832.8 64.8,834.6 65.5,836.2 66,837.9 66.9,839.4 67.3,841.2 68.2,842.7 69,844.4 69.4,846.1 70.2,847.7 71.2,849 71.8,850.6 72.9,851.9 73.6,853.5 74.3,855 75.4,856.3 76.2,857.8 77.1,859.2 78.3,860.5 79.6,861.7 80.8,862.9 82.2,863.9 83.7,864.9 84.8,866.2 86.1,867.4 87.5,868.5 89.1,869.1 90.6,869.9 92.1,870.8 93.7,871.4 95.2,872.2 96.7,873.1 98.4,873.5 100,873.9 101.7,874.4 103.3,875 105,875.3 106.7,875.4 108.3,875.7 110,875.6 111.7,875.5 113.3,875.9 115,875.8" fill="none" stroke="#111" stroke-width="2.2" stroke-linejoin="round"/><polygon points="35.2,667.8 38.6,668.4 40.3,675 40.8,690 39.6,698 36.5,701 34.5,696 34.3,680" fill="#111" stroke="none"/><polyline points="23.5,660.3 25.4,876.2 195.3,875" fill="none" stroke="#000" stroke-width="1.4"/><line x1="22.9" y1="876.2" x2="25.4" y2="876.2" stroke="#111" stroke-width="1.2"/><line x1="22.4" y1="822.2" x2="24.9" y2="822.2" stroke="#111" stroke-width="1.2"/><line x1="21.9" y1="768.2" x2="24.4" y2="768.2" stroke="#111" stroke-width="1.2"/><line x1="21.5" y1="714.3" x2="24" y2="714.3" stroke="#111" stroke-width="1.2"/><line x1="21" y1="660.3" x2="23.5" y2="660.3" stroke="#111" stroke-width="1.2"/><line x1="25.4" y1="876.2" x2="25.4" y2="878.7" stroke="#111" stroke-width="0.9"/><line x1="38.2" y1="876.1" x2="38.2" y2="877.6" stroke="#111" stroke-width="0.9"/><line x1="45.7" y1="876.1" x2="45.7" y2="877.6" stroke="#111" stroke-width="0.9"/><line x1="51" y1="876" x2="51" y2="877.5" stroke="#111" stroke-width="0.9"/><line x1="55.1" y1="876" x2="55.1" y2="877.5" stroke="#111" stroke-width="0.9"/><line x1="58.5" y1="876" x2="58.5" y2="877.5" stroke="#111" stroke-width="0.9"/><line x1="61.3" y1="875.9" x2="61.3" y2="877.4" stroke="#111" stroke-width="0.9"/><line x1="63.8" y1="875.9" x2="63.8" y2="877.4" stroke="#111" stroke-width="0.9"/><line x1="65.9" y1="875.9" x2="65.9" y2="877.4" stroke="#111" stroke-width="0.9"/><line x1="67.9" y1="875.9" x2="67.9" y2="878.4" stroke="#111" stroke-width="0.9"/><line x1="80.7" y1="875.8" x2="80.7" y2="877.3" stroke="#111" stroke-width="0.9"/><line x1="88.1" y1="875.8" x2="88.1" y2="877.3" stroke="#111" stroke-width="0.9"/><line x1="93.4" y1="875.7" x2="93.4" y2="877.2" stroke="#111" stroke-width="0.9"/><line x1="97.6" y1="875.7" x2="97.6" y2="877.2" stroke="#111" stroke-width="0.9"/><line x1="100.9" y1="875.7" x2="100.9" y2="877.2" stroke="#111" stroke-width="0.9"/><line x1="103.8" y1="875.6" x2="103.8" y2="877.1" stroke="#111" stroke-width="0.9"/><line x1="106.2" y1="875.6" x2="106.2" y2="877.1" stroke="#111" stroke-width="0.9"/><line x1="108.4" y1="875.6" x2="108.4" y2="877.1" stroke="#111" stroke-width="0.9"/><line x1="110.3" y1="875.6" x2="110.3" y2="878.1" stroke="#111" stroke-width="0.9"/><line x1="123.1" y1="875.5" x2="123.1" y2="877" stroke="#111" stroke-width="0.9"/><line x1="130.6" y1="875.5" x2="130.6" y2="877" stroke="#111" stroke-width="0.9"/><line x1="135.9" y1="875.4" x2="135.9" y2="876.9" stroke="#111" stroke-width="0.9"/><line x1="140" y1="875.4" x2="140" y2="876.9" stroke="#111" stroke-width="0.9"/><line x1="143.4" y1="875.4" x2="143.4" y2="876.9" stroke="#111" stroke-width="0.9"/><line x1="146.2" y1="875.3" x2="146.2" y2="876.8" stroke="#111" stroke-width="0.9"/><line x1="148.7" y1="875.3" x2="148.7" y2="876.8" stroke="#111" stroke-width="0.9"/><line x1="150.9" y1="875.3" x2="150.9" y2="876.8" stroke="#111" stroke-width="0.9"/><line x1="152.8" y1="875.3" x2="152.8" y2="877.8" stroke="#111" stroke-width="0.9"/><line x1="165.6" y1="875.2" x2="165.6" y2="876.7" stroke="#111" stroke-width="0.9"/><line x1="173.1" y1="875.2" x2="173.1" y2="876.7" stroke="#111" stroke-width="0.9"/><line x1="178.4" y1="875.1" x2="178.4" y2="876.6" stroke="#111" stroke-width="0.9"/><line x1="182.5" y1="875.1" x2="182.5" y2="876.6" stroke="#111" stroke-width="0.9"/><line x1="185.9" y1="875.1" x2="185.9" y2="876.6" stroke="#111" stroke-width="0.9"/><line x1="188.7" y1="875" x2="188.7" y2="876.5" stroke="#111" stroke-width="0.9"/><line x1="191.2" y1="875" x2="191.2" y2="876.5" stroke="#111" stroke-width="0.9"/><line x1="193.4" y1="875" x2="193.4" y2="876.5" stroke="#111" stroke-width="0.9"/><line x1="195.3" y1="875" x2="195.3" y2="877.5" stroke="#111" stroke-width="0.9"/><text transform="translate(19.5,665.8) rotate(-90)" font-family="&quot;Liberation Sans&quot;, sans-serif" font-size="9.3" font-weight="normal" fill="#000" textLength="11.1" lengthAdjust="spacingAndGlyphs" stroke="#000" stroke-width="0.35">80</text><text transform="translate(21.2,879.5) rotate(-90)" font-family="&quot;Liberation Sans&quot;, sans-serif" font-size="9" font-weight="normal" fill="#000" stroke="#000" stroke-width="0.35">0</text><text transform="translate(13.9,785.6) rotate(-90)" font-family="&quot;Liberation Sans&quot;, sans-serif" font-size="8.8" font-weight="normal" fill="#000" textLength="33.6" lengthAdjust="spacingAndGlyphs" stroke="#000" stroke-width="0.1">Events</text><text x="21.2" y="889" font-family="&quot;Liberation Sans&quot;, sans-serif" font-size="10" font-weight="normal" fill="#000" textLength="8.4" lengthAdjust="spacingAndGlyphs" stroke="#000" stroke-width="0.35">10</text><text x="30.6" y="884" font-family="&quot;Liberation Sans&quot;, sans-serif" font-size="6" font-weight="normal" fill="#000" stroke="#000" stroke-width="0.35">0</text><text x="63.7" y="888.7" font-family="&quot;Liberation Sans&quot;, sans-serif" font-size="10" font-weight="normal" fill="#000" textLength="8.4" lengthAdjust="spacingAndGlyphs" stroke="#000" stroke-width="0.35">10</text><text x="73.1" y="883.7" font-family="&quot;Liberation Sans&quot;, sans-serif" font-size="6" font-weight="normal" fill="#000" stroke="#000" stroke-width="0.35">1</text><text x="106.1" y="888.4" font-family="&quot;Liberation Sans&quot;, sans-serif" font-size="10" font-weight="normal" fill="#000" textLength="8.4" lengthAdjust="spacingAndGlyphs" stroke="#000" stroke-width="0.35">10</text><text x="115.5" y="883.4" font-family="&quot;Liberation Sans&quot;, sans-serif" font-size="6" font-weight="normal" fill="#000" stroke="#000" stroke-width="0.35">2</text><text x="148.6" y="888.1" font-family="&quot;Liberation Sans&quot;, sans-serif" font-size="10" font-weight="normal" fill="#000" textLength="8.4" lengthAdjust="spacingAndGlyphs" stroke="#000" stroke-width="0.35">10</text><text x="158" y="883.1" font-family="&quot;Liberation Sans&quot;, sans-serif" font-size="6" font-weight="normal" fill="#000" stroke="#000" stroke-width="0.35">3</text><text x="191.1" y="887.8" font-family="&quot;Liberation Sans&quot;, sans-serif" font-size="10" font-weight="normal" fill="#000" textLength="8.4" lengthAdjust="spacingAndGlyphs" stroke="#000" stroke-width="0.35">10</text><text x="200.5" y="882.8" font-family="&quot;Liberation Sans&quot;, sans-serif" font-size="6" font-weight="normal" fill="#000" stroke="#000" stroke-width="0.35">4</text><text x="84.6" y="903" font-family="&quot;Liberation Sans&quot;, sans-serif" font-size="10" font-weight="normal" fill="#000" textLength="49" lengthAdjust="spacingAndGlyphs" stroke="#000" stroke-width="0.35">Fluorescence</text><text x="84.3" y="797.6" font-family="&quot;Liberation Serif&quot;, serif" font-size="15.5" font-weight="normal" fill="#000" textLength="84.7" lengthAdjust="spacingAndGlyphs" stroke="#000" stroke-width="0.3">GPIb&#946; &#916;1-58</text><line x1="63.1" y1="812.3" x2="79.2" y2="796.2" stroke="#111" stroke-width="2"/></g>
<g><text x="294.6" y="646.5" font-family="&quot;Liberation Sans&quot;, sans-serif" font-size="26" font-weight="bold" fill="#000">F</text><polygon points="322.2,873.6 322.2,873.5 322.6,871.8 322.3,870.1 322.8,868.4 322.8,866.7 322.1,864.9 321.9,863.2 322.8,861.5 323.4,859.8 322.4,857.9 322.8,856.2 323,854.5 324.3,852.9 324.1,851.1 323.4,849.3 325.3,847.7 323.9,845.8 324.6,844.2 326.1,842.6 326.1,840.8 326.3,839.1 325.8,837.3 325.7,835.7 326.1,834.1 325.8,832.4 326.3,830.9 326.9,829.3 327.2,827.7 326.6,826 328.3,824.6 327.1,822.8 328.5,821.4 327.6,819.6 328.6,818.2 328.4,816.5 328.8,814.8 328.9,813.1 327.9,811.2 328.7,809.5 328.3,807.8 330.2,806.2 328.9,804.3 330.6,802.7 330.6,801 330.1,799.2 329.1,797.5 330.9,796 330.9,794.4 329.6,792.7 330.8,791.1 330.1,789.4 331,787.9 331.9,786.3 331.7,784.7 330.9,783 331.8,781.4 332.2,779.8 330.8,778.1 331.3,776.5 330.7,774.9 331.8,773.3 333,771.7 331.1,770 331.9,768.4 331.8,766.7 331.7,765 331.9,763.4 332.4,761.8 331.8,760.1 333,758.5 331.7,756.8 332.7,755.2 333.8,753.6 333.2,751.9 332.5,750.2 333.1,748.6 333.4,747 334,745.3 334.5,743.6 334.7,741.8 334.6,740.1 333.8,738.2 335.2,736.6 335.1,734.8 334.4,733 335.3,731.3 334.9,729.6 335.9,728 335.8,726.3 335.4,724.6 336.2,723 336.5,721.4 336,719.7 335.7,718 335.1,716.1 336.6,714.6 336.5,712.7 337,711 339.5,710 342,711.5 343.4,712.9 342.7,714.8 343.9,716.2 343.6,718 344.2,719.6 344.8,721.2 343.8,723 343.7,724.7 345.4,726.2 344.2,728 344,729.7 345,731.3 345.8,733 345.9,734.7 345.9,736.5 345.2,738.4 346.4,740 345.6,741.7 346.9,743.2 346.7,744.8 346.6,746.4 347.9,747.9 347.8,749.5 347.6,751.2 348,752.8 348.2,754.3 347.5,756 347.5,757.8 348.6,759.4 347.7,761.3 347.4,763.2 348.7,764.8 348.6,766.6 348.7,768.3 349.5,770 349.2,771.8 349.2,773.6 350.5,775.1 351.2,776.8 349.8,778.7 351.1,780.3 351,782.1 352.1,783.8 351.7,785.6 350.7,787.4 351.7,789.1 351.7,790.8 350.6,792.6 351.6,794.3 353.1,795.7 352.9,797.7 352.9,799.6 353.5,801.3 353.9,803 354.1,804.9 355.2,806.4 355.7,808 357.2,809.1 357.6,810.7 357,812.7 357.7,814.2 358.1,815.8 359.4,817.1 360,818.6 360.3,820.4 360.7,822.1 362.3,823.5 360.7,825.8 361.7,827.3 361.8,829.2 363,830.7 363.4,832.3 364.5,833.6 365,835.1 366.1,836.5 366.1,838.2 365.9,840 367.3,841.2 367.4,842.9 367.9,844.6 368.3,846.4 368.8,848.1 369.9,849.7 370.2,851.5 370.4,853.3 371,855 371.9,856.6 371.7,858.7 374.2,859.5 375,861.1 374.3,863.5 376,864.7 376.4,866.7 378.2,867.3 379.5,868.5 381.3,869.1 382,870.8 383.5,871.4 385.3,871.2 386.6,872.8 388.5,872.1 390,873 391.7,873.1 393.3,872.8 395,873.2 396.6,874.2 398.3,874.2 400,873.4 400,872.7" fill="#d6d6d6" stroke="none"/><polygon points="349.6,770 351.4,770 352.6,782.1 357.5,794.3 361.1,806.4 362.3,818.6 365.4,830.7 370.2,842.9 375.1,855 381.1,864.7 387.2,870.8 381.1,870.8 375.1,864.7 370.2,855 366.6,842.9 362.3,830.7 359.3,818.6 354.4,806.4 350.8,794.3 350.2,782.1" fill="#444" stroke="none"/><polyline points="322.2,873.5 322.6,871.8 322.3,870.1 322.8,868.4 322.8,866.7 322.1,864.9 321.9,863.2 322.8,861.5 323.4,859.8 322.4,857.9 322.8,856.2 323,854.5 324.3,852.9 324.1,851.1 323.4,849.3 325.3,847.7 323.9,845.8 324.6,844.2 326.1,842.6 326.1,840.8 326.3,839.1 325.8,837.3 325.7,835.7 326.1,834.1 325.8,832.4 326.3,830.9 326.9,829.3 327.2,827.7 326.6,826 328.3,824.6 327.1,822.8 328.5,821.4 327.6,819.6 328.6,818.2 328.4,816.5 328.8,814.8 328.9,813.1 327.9,811.2 328.7,809.5 328.3,807.8 330.2,806.2 328.9,804.3 330.6,802.7 330.6,801 330.1,799.2 329.1,797.5 330.9,796 330.9,794.4 329.6,792.7 330.8,791.1 330.1,789.4 331,787.9 331.9,786.3 331.7,784.7 330.9,783 331.8,781.4 332.2,779.8 330.8,778.1 331.3,776.5 330.7,774.9 331.8,773.3 333,771.7 331.1,770 331.9,768.4 331.8,766.7 331.7,765 331.9,763.4 332.4,761.8 331.8,760.1 333,758.5 331.7,756.8 332.7,755.2 333.8,753.6 333.2,751.9 332.5,750.2 333.1,748.6 333.4,747 334,745.3 334.5,743.6 334.7,741.8 334.6,740.1 333.8,738.2 335.2,736.6 335.1,734.8 334.4,733 335.3,731.3 334.9,729.6 335.9,728 335.8,726.3 335.4,724.6 336.2,723 336.5,721.4 336,719.7 335.7,718 335.1,716.1 336.6,714.6 336.5,712.7 337,711 339.5,710 342,711.5 343.4,712.9 342.7,714.8 343.9,716.2 343.6,718 344.2,719.6 344.8,721.2 343.8,723 343.7,724.7 345.4,726.2 344.2,728 344,729.7 345,731.3 345.8,733 345.9,734.7 345.9,736.5 345.2,738.4 346.4,740 345.6,741.7 346.9,743.2 346.7,744.8 346.6,746.4 347.9,747.9 347.8,749.5 347.6,751.2 348,752.8 348.2,754.3 347.5,756 347.5,757.8 348.6,759.4 347.7,761.3 347.4,763.2 348.7,764.8 348.6,766.6 348.7,768.3 349.5,770 349.2,771.8 349.2,773.6 350.5,775.1 351.2,776.8 349.8,778.7 351.1,780.3 351,782.1 352.1,783.8 351.7,785.6 350.7,787.4 351.7,789.1 351.7,790.8 350.6,792.6 351.6,794.3 353.1,795.7 352.9,797.7 352.9,799.6 353.5,801.3 353.9,803 354.1,804.9 355.2,806.4 355.7,808 357.2,809.1 357.6,810.7 357,812.7 357.7,814.2 358.1,815.8 359.4,817.1 360,818.6 360.3,820.4 360.7,822.1 362.3,823.5 360.7,825.8 361.7,827.3 361.8,829.2 363,830.7 363.4,832.3 364.5,833.6 365,835.1 366.1,836.5 366.1,838.2 365.9,840 367.3,841.2 367.4,842.9 367.9,844.6 368.3,846.4 368.8,848.1 369.9,849.7 370.2,851.5 370.4,853.3 371,855 371.9,856.6 371.7,858.7 374.2,859.5 375,861.1 374.3,863.5 376,864.7 376.4,866.7 378.2,867.3 379.5,868.5 381.3,869.1 382,870.8 383.5,871.4 385.3,871.2 386.6,872.8 388.5,872.1 390,873 391.7,873.1 393.3,872.8 395,873.2 396.6,874.2 398.3,874.2 400,873.4" fill="none" stroke="#111" stroke-width="2.0" stroke-linejoin="round"/><polyline points="322.2,873.5 322.5,871.8 322.4,870.1 322.7,868.4 322.8,866.7 322.4,864.9 322.8,863.2 322.8,861.5 323.2,859.8 323.2,858 323.5,856.3 323.6,854.6 324,852.8 324.1,851.1 324.3,849.4 324.4,847.6 325,846 324.9,844.2 325.2,842.5 325.4,840.8 325.8,839.1 325.8,837.3 325.9,835.7 326.4,834.1 326.2,832.5 326.4,830.9 326.8,829.3 326.8,827.7 327.1,826.1 327.3,824.5 327.8,822.9 327.7,821.3 327.8,819.7 328,818.1 328.4,816.5 328.4,814.8 328.7,813 329.2,811.3 329,809.6 329.3,807.9 329.5,806.1 329.8,804.4 329.7,802.7 330.2,801 330.1,799.2 330.3,797.6 330.2,796 330.5,794.3 330.5,792.7 330.8,791.1 330.8,789.5 330.7,787.9 331.1,786.3 331.1,784.6 331.1,783 331.5,781.4 331.3,779.8 331.4,778.1 331.5,776.5 331.9,774.9 331.8,773.3 332,771.7 331.9,770 332.2,768.4 332.2,766.7 332.4,765.1 332.4,763.4 332.7,761.8 332.6,760.2 332.7,758.5 332.6,756.9 333.1,755.2 332.8,753.6 332.9,751.9 333.3,750.3 333.1,748.6 333.4,747 333.6,745.3 333.8,743.5 334.1,741.8 334.3,740 334.5,738.3 334.7,736.5 334.8,734.8 334.9,733 335.3,731.3 335.4,729.6 335.2,728 335.5,726.3 335.3,724.6 335.6,723 335.4,721.3 335.8,719.7 335.7,718 335.5,716.4 336.1,714.8 335.6,713.2 336,711.6 336,710 336.1,708.3 336.1,706.7 336.2,705 336.4,703.3 336.5,701.7 336.4,700 337.2,697.5 337.4,695.9 337.5,694.2 337.4,692.6 337.2,690.9 337.4,689.2 337.5,687.6 337.6,686 337.6,684.3" fill="none" stroke="#111" stroke-width="1.2" stroke-linejoin="round"/><polyline points="337.6,684.3 338.4,684.6 338.2,686.4 338.3,688.1 338.4,689.9 338.6,691.7 338.4,693.5 338.8,695.2 338.6,697 340.9,696.2 341.6,698.1 342.5,700 342.7,701.7 343.1,703.3 343.2,705 343.1,706.7 343.2,708.3 343.5,710 343.6,711.6 343.5,713.2 343.6,714.8 343.5,716.4 343.6,718 343.5,719.7 344,721.3 344.3,723 344.1,724.7 344.6,726.3 344.5,728 344.6,729.7 345,731.3 345.2,733 345.4,734.8 345.9,736.5 346.1,738.3 346.4,740 346.6,741.6 346.6,743.2 346.7,744.8 346.6,746.4 346.8,748 347.3,749.6 347.2,751.2 347.1,752.8 347.3,754.4 347.5,756 347.9,757.7 347.8,759.5 348.3,761.2 348.5,763 348.5,764.8 349.2,766.5 349.3,768.2 349.5,770 349.5,771.7 349.8,773.5 350,775.2 350.2,776.9 350.2,778.7 350.4,780.4 350.8,782.1 351.5,784 351.7,786.1 352.5,788 353.4,789.7 354.4,791.2 355.5,792.7 356.5,794.3 356.8,796.1 357.7,797.7 358,799.5 358.4,801.3 358.9,803 359.6,804.7 360,806.4 360.3,808.1 360.5,809.9 360.5,811.6 360.7,813.4 361.1,815.1 361.1,816.9 361.5,818.6 362,820.3 362.4,822.1 362.8,823.8 363.3,825.5 363.9,827.2 363.9,829 364.5,830.7 365.2,832.2 365.8,833.7 366.5,835.2 367.1,836.7 367.7,838.2 368.3,839.8 368.6,841.4 369.3,842.9 370,844.4 370.3,846 371.2,847.4 371.8,848.9 372.6,850.4 373.1,851.9 373.5,853.5 374.2,855 375.1,856.3 375.8,857.8 376.7,859.1 377.4,860.6 378.3,861.9 379.2,863.3 380,864.7 381.2,865.9 382.6,867 383.6,868.4 384.9,869.5 386,870.8 388,871.4 390,872.2 392,872.9 393.6,873 395.2,872.9 396.8,873.1 398.4,873.4 400,873.4" fill="none" stroke="#111" stroke-width="2.4" stroke-linejoin="round"/><polygon points="335.6,697.5 337,697 337.3,684 338.8,684.2 339,696.5 340.9,695.7 343.1,699 343.3,710.8 341,712 338,712 335.9,710.8" fill="#111" stroke="none"/><polyline points="320.8,662.3 322.2,873.6 492.3,872.7" fill="none" stroke="#000" stroke-width="1.4"/><line x1="319.7" y1="873.6" x2="322.2" y2="873.6" stroke="#111" stroke-width="1.2"/><line x1="319.4" y1="820.8" x2="321.9" y2="820.8" stroke="#111" stroke-width="1.2"/><line x1="319" y1="768" x2="321.5" y2="768" stroke="#111" stroke-width="1.2"/><line x1="318.6" y1="715.1" x2="321.1" y2="715.1" stroke="#111" stroke-width="1.2"/><line x1="318.3" y1="662.3" x2="320.8" y2="662.3" stroke="#111" stroke-width="1.2"/><line x1="322.2" y1="873.6" x2="322.2" y2="876.1" stroke="#111" stroke-width="0.9"/><line x1="335" y1="873.5" x2="335" y2="875" stroke="#111" stroke-width="0.9"/><line x1="342.5" y1="873.5" x2="342.5" y2="875" stroke="#111" stroke-width="0.9"/><line x1="347.8" y1="873.5" x2="347.8" y2="875" stroke="#111" stroke-width="0.9"/><line x1="351.9" y1="873.4" x2="351.9" y2="874.9" stroke="#111" stroke-width="0.9"/><line x1="355.3" y1="873.4" x2="355.3" y2="874.9" stroke="#111" stroke-width="0.9"/><line x1="358.1" y1="873.4" x2="358.1" y2="874.9" stroke="#111" stroke-width="0.9"/><line x1="360.6" y1="873.4" x2="360.6" y2="874.9" stroke="#111" stroke-width="0.9"/><line x1="362.8" y1="873.4" x2="362.8" y2="874.9" stroke="#111" stroke-width="0.9"/><line x1="364.7" y1="873.4" x2="364.7" y2="875.9" stroke="#111" stroke-width="0.9"/><line x1="377.5" y1="873.3" x2="377.5" y2="874.8" stroke="#111" stroke-width="0.9"/><line x1="385" y1="873.3" x2="385" y2="874.8" stroke="#111" stroke-width="0.9"/><line x1="390.3" y1="873.2" x2="390.3" y2="874.7" stroke="#111" stroke-width="0.9"/><line x1="394.4" y1="873.2" x2="394.4" y2="874.7" stroke="#111" stroke-width="0.9"/><line x1="397.8" y1="873.2" x2="397.8" y2="874.7" stroke="#111" stroke-width="0.9"/><line x1="400.7" y1="873.2" x2="400.7" y2="874.7" stroke="#111" stroke-width="0.9"/><line x1="403.1" y1="873.2" x2="403.1" y2="874.7" stroke="#111" stroke-width="0.9"/><line x1="405.3" y1="873.2" x2="405.3" y2="874.7" stroke="#111" stroke-width="0.9"/><line x1="407.2" y1="873.1" x2="407.2" y2="875.6" stroke="#111" stroke-width="0.9"/><line x1="420.1" y1="873.1" x2="420.1" y2="874.6" stroke="#111" stroke-width="0.9"/><line x1="427.5" y1="873" x2="427.5" y2="874.5" stroke="#111" stroke-width="0.9"/><line x1="432.9" y1="873" x2="432.9" y2="874.5" stroke="#111" stroke-width="0.9"/><line x1="437" y1="873" x2="437" y2="874.5" stroke="#111" stroke-width="0.9"/><line x1="440.3" y1="873" x2="440.3" y2="874.5" stroke="#111" stroke-width="0.9"/><line x1="443.2" y1="873" x2="443.2" y2="874.5" stroke="#111" stroke-width="0.9"/><line x1="445.7" y1="872.9" x2="445.7" y2="874.4" stroke="#111" stroke-width="0.9"/><line x1="447.8" y1="872.9" x2="447.8" y2="874.4" stroke="#111" stroke-width="0.9"/><line x1="449.8" y1="872.9" x2="449.8" y2="875.4" stroke="#111" stroke-width="0.9"/><line x1="462.6" y1="872.9" x2="462.6" y2="874.4" stroke="#111" stroke-width="0.9"/><line x1="470.1" y1="872.8" x2="470.1" y2="874.3" stroke="#111" stroke-width="0.9"/><line x1="475.4" y1="872.8" x2="475.4" y2="874.3" stroke="#111" stroke-width="0.9"/><line x1="479.5" y1="872.8" x2="479.5" y2="874.3" stroke="#111" stroke-width="0.9"/><line x1="482.9" y1="872.7" x2="482.9" y2="874.2" stroke="#111" stroke-width="0.9"/><line x1="485.7" y1="872.7" x2="485.7" y2="874.2" stroke="#111" stroke-width="0.9"/><line x1="488.2" y1="872.7" x2="488.2" y2="874.2" stroke="#111" stroke-width="0.9"/><line x1="490.4" y1="872.7" x2="490.4" y2="874.2" stroke="#111" stroke-width="0.9"/><line x1="492.3" y1="872.7" x2="492.3" y2="875.2" stroke="#111" stroke-width="0.9"/><text transform="translate(316.9,667.7) rotate(-90)" font-family="&quot;Liberation Sans&quot;, sans-serif" font-size="9.3" font-weight="normal" fill="#000" textLength="11.1" lengthAdjust="spacingAndGlyphs" stroke="#000" stroke-width="0.35">80</text><text transform="translate(318.2,877.5) rotate(-90)" font-family="&quot;Liberation Sans&quot;, sans-serif" font-size="9" font-weight="normal" fill="#000" stroke="#000" stroke-width="0.35">0</text><text transform="translate(310.8,785.6) rotate(-90)" font-family="&quot;Liberation Sans&quot;, sans-serif" font-size="8.8" font-weight="normal" fill="#000" textLength="33.2" lengthAdjust="spacingAndGlyphs" stroke="#000" stroke-width="0.1">Events</text><text x="318" y="886.4" font-family="&quot;Liberation Sans&quot;, sans-serif" font-size="10" font-weight="normal" fill="#000" textLength="8.4" lengthAdjust="spacingAndGlyphs" stroke="#000" stroke-width="0.35">10</text><text x="327.4" y="881.4" font-family="&quot;Liberation Sans&quot;, sans-serif" font-size="6" font-weight="normal" fill="#000" stroke="#000" stroke-width="0.35">0</text><text x="360.5" y="886.2" font-family="&quot;Liberation Sans&quot;, sans-serif" font-size="10" font-weight="normal" fill="#000" textLength="8.4" lengthAdjust="spacingAndGlyphs" stroke="#000" stroke-width="0.35">10</text><text x="369.9" y="881.2" font-family="&quot;Liberation Sans&quot;, sans-serif" font-size="6" font-weight="normal" fill="#000" stroke="#000" stroke-width="0.35">1</text><text x="403.1" y="885.9" font-family="&quot;Liberation Sans&quot;, sans-serif" font-size="10" font-weight="normal" fill="#000" textLength="8.4" lengthAdjust="spacingAndGlyphs" stroke="#000" stroke-width="0.35">10</text><text x="412.4" y="880.9" font-family="&quot;Liberation Sans&quot;, sans-serif" font-size="6" font-weight="normal" fill="#000" stroke="#000" stroke-width="0.35">2</text><text x="445.6" y="885.7" font-family="&quot;Liberation Sans&quot;, sans-serif" font-size="10" font-weight="normal" fill="#000" textLength="8.4" lengthAdjust="spacingAndGlyphs" stroke="#000" stroke-width="0.35">10</text><text x="455" y="880.7" font-family="&quot;Liberation Sans&quot;, sans-serif" font-size="6" font-weight="normal" fill="#000" stroke="#000" stroke-width="0.35">3</text><text x="488.1" y="885.5" font-family="&quot;Liberation Sans&quot;, sans-serif" font-size="10" font-weight="normal" fill="#000" textLength="8.4" lengthAdjust="spacingAndGlyphs" stroke="#000" stroke-width="0.35">10</text><text x="497.5" y="880.5" font-family="&quot;Liberation Sans&quot;, sans-serif" font-size="6" font-weight="normal" fill="#000" stroke="#000" stroke-width="0.35">4</text><text x="381.8" y="900.5" font-family="&quot;Liberation Sans&quot;, sans-serif" font-size="10" font-weight="normal" fill="#000" textLength="48.5" lengthAdjust="spacingAndGlyphs" stroke="#000" stroke-width="0.35">Fluorescence</text><text x="384.6" y="796.9" font-family="&quot;Liberation Serif&quot;, serif" font-size="15.5" font-weight="normal" fill="#000" textLength="84.6" lengthAdjust="spacingAndGlyphs" stroke="#000" stroke-width="0.3">GPIb&#946; &#916;1-65</text><line x1="363" y1="811.3" x2="380.5" y2="794.9" stroke="#111" stroke-width="2"/></g>
</svg>
</body></html>
